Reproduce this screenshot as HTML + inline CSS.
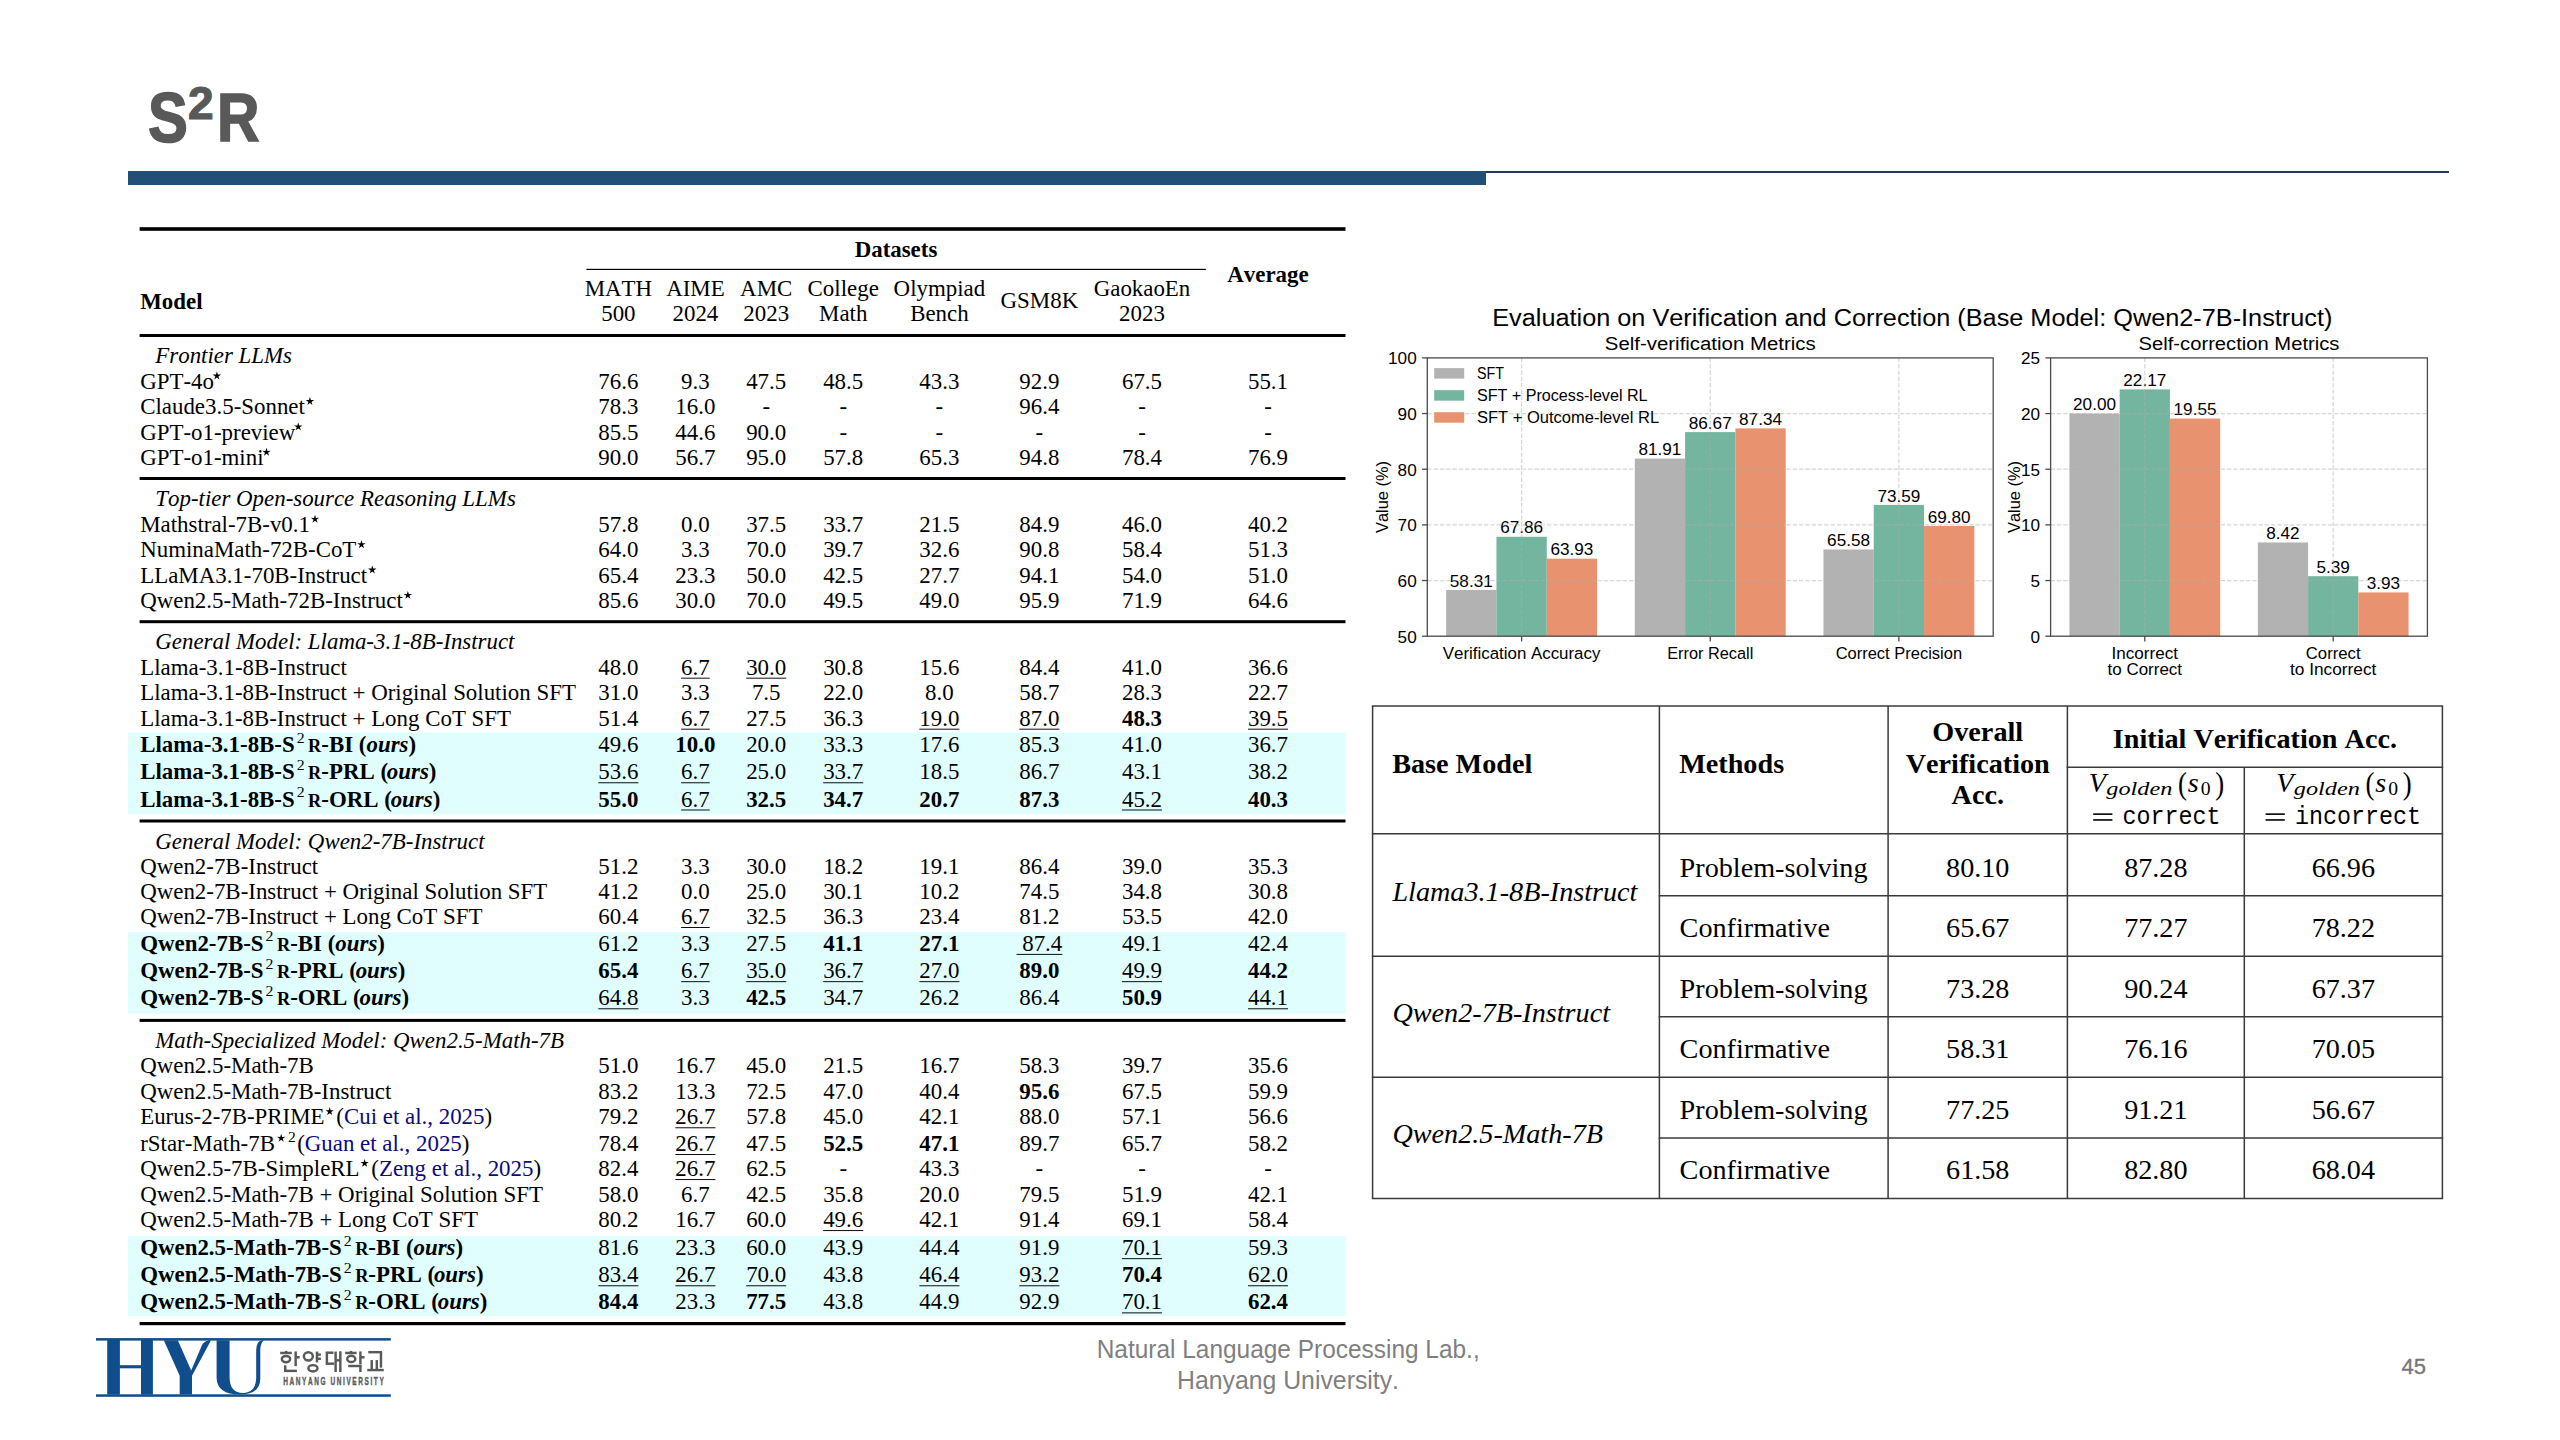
<!DOCTYPE html>
<html><head><meta charset="utf-8"><title>S2R</title>
<style>
html,body{margin:0;padding:0;background:#fff;}
body{width:2560px;height:1440px;overflow:hidden;}
svg{display:block;}
text{font-kerning:none;}
</style></head><body>
<svg width="2560" height="1440" viewBox="0 0 2560 1440">
<rect width="2560" height="1440" fill="#fff"/>
<text x="148.1" y="141.8" font-family="'Liberation Sans',sans-serif" font-weight="bold" font-size="69.5" fill="#595959" stroke="#595959" stroke-width="1.6" transform="translate(147.6,0) scale(0.86,1) translate(-147.6,0)">S</text>
<text x="188.1" y="118.8" font-family="'Liberation Sans',sans-serif" font-weight="bold" font-size="46" fill="#595959" stroke="#595959" stroke-width="1.2">2</text>
<text x="216.9" y="141.2" font-family="'Liberation Sans',sans-serif" font-weight="bold" font-size="68" fill="#595959" stroke="#595959" stroke-width="1.6" transform="translate(216.8,0) scale(0.865,1) translate(-216.8,0)">R</text>
<rect x="128" y="171" width="1358" height="14" fill="#224f78"/>
<rect x="1486" y="171" width="963" height="2" fill="#1e3957"/>
<rect x="128" y="732.40" width="1217.5" height="81.80" fill="#e0fefe"/>
<rect x="128" y="932.30" width="1217.5" height="81.30" fill="#e0fefe"/>
<rect x="128" y="1236.20" width="1217.5" height="80.00" fill="#e0fefe"/>
<rect x="139.60" y="227.20" width="1205.90" height="3.60" fill="#000"/>
<rect x="139.60" y="334.00" width="1205.90" height="3.00" fill="#000"/>
<rect x="139.60" y="477.00" width="1205.90" height="3.00" fill="#000"/>
<rect x="139.60" y="620.20" width="1205.90" height="3.00" fill="#000"/>
<rect x="139.60" y="819.50" width="1205.90" height="3.00" fill="#000"/>
<rect x="139.60" y="1018.90" width="1205.90" height="3.00" fill="#000"/>
<rect x="139.60" y="1322.00" width="1205.90" height="3.20" fill="#000"/>
<rect x="586.4" y="268.8" width="619.4" height="1.2" fill="#000"/>
<text x="896.00" y="256.60" font-family="'Liberation Serif',serif" font-size="22.90" font-weight="bold" font-style="normal" text-anchor="middle">Datasets</text>
<text x="1268.00" y="282.00" font-family="'Liberation Serif',serif" font-size="22.90" font-weight="bold" font-style="normal" text-anchor="middle">Average</text>
<text x="140.20" y="309.00" font-family="'Liberation Serif',serif" font-size="22.90" font-weight="bold" font-style="normal">Model</text>
<text x="618.40" y="295.60" font-family="'Liberation Serif',serif" font-size="22.90" font-weight="normal" font-style="normal" text-anchor="middle">MATH</text>
<text x="618.40" y="321.00" font-family="'Liberation Serif',serif" font-size="22.90" font-weight="normal" font-style="normal" text-anchor="middle">500</text>
<text x="695.40" y="295.60" font-family="'Liberation Serif',serif" font-size="22.90" font-weight="normal" font-style="normal" text-anchor="middle">AIME</text>
<text x="695.40" y="321.00" font-family="'Liberation Serif',serif" font-size="22.90" font-weight="normal" font-style="normal" text-anchor="middle">2024</text>
<text x="766.20" y="295.60" font-family="'Liberation Serif',serif" font-size="22.90" font-weight="normal" font-style="normal" text-anchor="middle">AMC</text>
<text x="766.20" y="321.00" font-family="'Liberation Serif',serif" font-size="22.90" font-weight="normal" font-style="normal" text-anchor="middle">2023</text>
<text x="843.20" y="295.60" font-family="'Liberation Serif',serif" font-size="22.90" font-weight="normal" font-style="normal" text-anchor="middle">College</text>
<text x="843.20" y="321.00" font-family="'Liberation Serif',serif" font-size="22.90" font-weight="normal" font-style="normal" text-anchor="middle">Math</text>
<text x="939.40" y="295.60" font-family="'Liberation Serif',serif" font-size="22.90" font-weight="normal" font-style="normal" text-anchor="middle">Olympiad</text>
<text x="939.40" y="321.00" font-family="'Liberation Serif',serif" font-size="22.90" font-weight="normal" font-style="normal" text-anchor="middle">Bench</text>
<text x="1039.40" y="308.40" font-family="'Liberation Serif',serif" font-size="22.90" font-weight="normal" font-style="normal" text-anchor="middle">GSM8K</text>
<text x="1142.00" y="295.60" font-family="'Liberation Serif',serif" font-size="22.90" font-weight="normal" font-style="normal" text-anchor="middle">GaokaoEn</text>
<text x="1142.00" y="321.00" font-family="'Liberation Serif',serif" font-size="22.90" font-weight="normal" font-style="normal" text-anchor="middle">2023</text>
<text x="155.30" y="363.40" font-family="'Liberation Serif',serif" font-size="22.90" font-weight="normal" font-style="italic">Frontier LLMs</text>
<text x="140.20" y="388.70" font-family="'Liberation Serif',serif" font-size="22.90" font-weight="normal" font-style="normal">GPT-4o</text>
<polygon points="216.89,371.50 217.84,374.58 221.07,374.54 218.44,376.40 219.47,379.46 216.89,377.53 214.30,379.46 215.34,376.40 212.70,374.54 215.93,374.58" fill="#000"/>
<text x="618.40" y="388.70" font-family="'Liberation Serif',serif" font-size="22.90" font-weight="normal" font-style="normal" text-anchor="middle">76.6</text>
<text x="695.40" y="388.70" font-family="'Liberation Serif',serif" font-size="22.90" font-weight="normal" font-style="normal" text-anchor="middle">9.3</text>
<text x="766.20" y="388.70" font-family="'Liberation Serif',serif" font-size="22.90" font-weight="normal" font-style="normal" text-anchor="middle">47.5</text>
<text x="843.20" y="388.70" font-family="'Liberation Serif',serif" font-size="22.90" font-weight="normal" font-style="normal" text-anchor="middle">48.5</text>
<text x="939.40" y="388.70" font-family="'Liberation Serif',serif" font-size="22.90" font-weight="normal" font-style="normal" text-anchor="middle">43.3</text>
<text x="1039.40" y="388.70" font-family="'Liberation Serif',serif" font-size="22.90" font-weight="normal" font-style="normal" text-anchor="middle">92.9</text>
<text x="1142.00" y="388.70" font-family="'Liberation Serif',serif" font-size="22.90" font-weight="normal" font-style="normal" text-anchor="middle">67.5</text>
<text x="1268.00" y="388.70" font-family="'Liberation Serif',serif" font-size="22.90" font-weight="normal" font-style="normal" text-anchor="middle">55.1</text>
<text x="140.20" y="414.20" font-family="'Liberation Serif',serif" font-size="22.90" font-weight="normal" font-style="normal">Claude3.5-Sonnet</text>
<polygon points="309.93,397.00 310.88,400.08 314.11,400.04 311.48,401.90 312.51,404.96 309.93,403.03 307.34,404.96 308.38,401.90 305.74,400.04 308.97,400.08" fill="#000"/>
<text x="618.40" y="414.20" font-family="'Liberation Serif',serif" font-size="22.90" font-weight="normal" font-style="normal" text-anchor="middle">78.3</text>
<text x="695.40" y="414.20" font-family="'Liberation Serif',serif" font-size="22.90" font-weight="normal" font-style="normal" text-anchor="middle">16.0</text>
<text x="766.20" y="414.20" font-family="'Liberation Serif',serif" font-size="22.90" font-weight="normal" font-style="normal" text-anchor="middle">-</text>
<text x="843.20" y="414.20" font-family="'Liberation Serif',serif" font-size="22.90" font-weight="normal" font-style="normal" text-anchor="middle">-</text>
<text x="939.40" y="414.20" font-family="'Liberation Serif',serif" font-size="22.90" font-weight="normal" font-style="normal" text-anchor="middle">-</text>
<text x="1039.40" y="414.20" font-family="'Liberation Serif',serif" font-size="22.90" font-weight="normal" font-style="normal" text-anchor="middle">96.4</text>
<text x="1142.00" y="414.20" font-family="'Liberation Serif',serif" font-size="22.90" font-weight="normal" font-style="normal" text-anchor="middle">-</text>
<text x="1268.00" y="414.20" font-family="'Liberation Serif',serif" font-size="22.90" font-weight="normal" font-style="normal" text-anchor="middle">-</text>
<text x="140.20" y="439.60" font-family="'Liberation Serif',serif" font-size="22.90" font-weight="normal" font-style="normal">GPT-o1-preview</text>
<polygon points="298.27,422.40 299.23,425.48 302.45,425.44 299.82,427.30 300.85,430.36 298.27,428.43 295.68,430.36 296.72,427.30 294.08,425.44 297.31,425.48" fill="#000"/>
<text x="618.40" y="439.60" font-family="'Liberation Serif',serif" font-size="22.90" font-weight="normal" font-style="normal" text-anchor="middle">85.5</text>
<text x="695.40" y="439.60" font-family="'Liberation Serif',serif" font-size="22.90" font-weight="normal" font-style="normal" text-anchor="middle">44.6</text>
<text x="766.20" y="439.60" font-family="'Liberation Serif',serif" font-size="22.90" font-weight="normal" font-style="normal" text-anchor="middle">90.0</text>
<text x="843.20" y="439.60" font-family="'Liberation Serif',serif" font-size="22.90" font-weight="normal" font-style="normal" text-anchor="middle">-</text>
<text x="939.40" y="439.60" font-family="'Liberation Serif',serif" font-size="22.90" font-weight="normal" font-style="normal" text-anchor="middle">-</text>
<text x="1039.40" y="439.60" font-family="'Liberation Serif',serif" font-size="22.90" font-weight="normal" font-style="normal" text-anchor="middle">-</text>
<text x="1142.00" y="439.60" font-family="'Liberation Serif',serif" font-size="22.90" font-weight="normal" font-style="normal" text-anchor="middle">-</text>
<text x="1268.00" y="439.60" font-family="'Liberation Serif',serif" font-size="22.90" font-weight="normal" font-style="normal" text-anchor="middle">-</text>
<text x="140.20" y="465.00" font-family="'Liberation Serif',serif" font-size="22.90" font-weight="normal" font-style="normal">GPT-o1-mini</text>
<polygon points="266.50,447.80 267.46,450.88 270.68,450.84 268.05,452.70 269.09,455.76 266.50,453.83 263.91,455.76 264.95,452.70 262.32,450.84 265.54,450.88" fill="#000"/>
<text x="618.40" y="465.00" font-family="'Liberation Serif',serif" font-size="22.90" font-weight="normal" font-style="normal" text-anchor="middle">90.0</text>
<text x="695.40" y="465.00" font-family="'Liberation Serif',serif" font-size="22.90" font-weight="normal" font-style="normal" text-anchor="middle">56.7</text>
<text x="766.20" y="465.00" font-family="'Liberation Serif',serif" font-size="22.90" font-weight="normal" font-style="normal" text-anchor="middle">95.0</text>
<text x="843.20" y="465.00" font-family="'Liberation Serif',serif" font-size="22.90" font-weight="normal" font-style="normal" text-anchor="middle">57.8</text>
<text x="939.40" y="465.00" font-family="'Liberation Serif',serif" font-size="22.90" font-weight="normal" font-style="normal" text-anchor="middle">65.3</text>
<text x="1039.40" y="465.00" font-family="'Liberation Serif',serif" font-size="22.90" font-weight="normal" font-style="normal" text-anchor="middle">94.8</text>
<text x="1142.00" y="465.00" font-family="'Liberation Serif',serif" font-size="22.90" font-weight="normal" font-style="normal" text-anchor="middle">78.4</text>
<text x="1268.00" y="465.00" font-family="'Liberation Serif',serif" font-size="22.90" font-weight="normal" font-style="normal" text-anchor="middle">76.9</text>
<text x="155.30" y="506.10" font-family="'Liberation Serif',serif" font-size="22.90" font-weight="normal" font-style="italic">Top-tier Open-source Reasoning LLMs</text>
<text x="140.20" y="532.00" font-family="'Liberation Serif',serif" font-size="22.90" font-weight="normal" font-style="normal">Mathstral-7B-v0.1</text>
<polygon points="315.02,514.80 315.97,517.88 319.20,517.84 316.56,519.70 317.60,522.76 315.02,520.83 312.43,522.76 313.47,519.70 310.83,517.84 314.06,517.88" fill="#000"/>
<text x="618.40" y="532.00" font-family="'Liberation Serif',serif" font-size="22.90" font-weight="normal" font-style="normal" text-anchor="middle">57.8</text>
<text x="695.40" y="532.00" font-family="'Liberation Serif',serif" font-size="22.90" font-weight="normal" font-style="normal" text-anchor="middle">0.0</text>
<text x="766.20" y="532.00" font-family="'Liberation Serif',serif" font-size="22.90" font-weight="normal" font-style="normal" text-anchor="middle">37.5</text>
<text x="843.20" y="532.00" font-family="'Liberation Serif',serif" font-size="22.90" font-weight="normal" font-style="normal" text-anchor="middle">33.7</text>
<text x="939.40" y="532.00" font-family="'Liberation Serif',serif" font-size="22.90" font-weight="normal" font-style="normal" text-anchor="middle">21.5</text>
<text x="1039.40" y="532.00" font-family="'Liberation Serif',serif" font-size="22.90" font-weight="normal" font-style="normal" text-anchor="middle">84.9</text>
<text x="1142.00" y="532.00" font-family="'Liberation Serif',serif" font-size="22.90" font-weight="normal" font-style="normal" text-anchor="middle">46.0</text>
<text x="1268.00" y="532.00" font-family="'Liberation Serif',serif" font-size="22.90" font-weight="normal" font-style="normal" text-anchor="middle">40.2</text>
<text x="140.20" y="557.40" font-family="'Liberation Serif',serif" font-size="22.90" font-weight="normal" font-style="normal">NuminaMath-72B-CoT</text>
<polygon points="361.45,540.20 362.41,543.28 365.64,543.24 363.00,545.10 364.04,548.16 361.45,546.23 358.87,548.16 359.91,545.10 357.27,543.24 360.50,543.28" fill="#000"/>
<text x="618.40" y="557.40" font-family="'Liberation Serif',serif" font-size="22.90" font-weight="normal" font-style="normal" text-anchor="middle">64.0</text>
<text x="695.40" y="557.40" font-family="'Liberation Serif',serif" font-size="22.90" font-weight="normal" font-style="normal" text-anchor="middle">3.3</text>
<text x="766.20" y="557.40" font-family="'Liberation Serif',serif" font-size="22.90" font-weight="normal" font-style="normal" text-anchor="middle">70.0</text>
<text x="843.20" y="557.40" font-family="'Liberation Serif',serif" font-size="22.90" font-weight="normal" font-style="normal" text-anchor="middle">39.7</text>
<text x="939.40" y="557.40" font-family="'Liberation Serif',serif" font-size="22.90" font-weight="normal" font-style="normal" text-anchor="middle">32.6</text>
<text x="1039.40" y="557.40" font-family="'Liberation Serif',serif" font-size="22.90" font-weight="normal" font-style="normal" text-anchor="middle">90.8</text>
<text x="1142.00" y="557.40" font-family="'Liberation Serif',serif" font-size="22.90" font-weight="normal" font-style="normal" text-anchor="middle">58.4</text>
<text x="1268.00" y="557.40" font-family="'Liberation Serif',serif" font-size="22.90" font-weight="normal" font-style="normal" text-anchor="middle">51.3</text>
<text x="140.20" y="582.70" font-family="'Liberation Serif',serif" font-size="22.90" font-weight="normal" font-style="normal">LLaMA3.1-70B-Instruct</text>
<polygon points="372.25,565.50 373.20,568.58 376.43,568.54 373.79,570.40 374.83,573.46 372.25,571.53 369.66,573.46 370.70,570.40 368.06,568.54 371.29,568.58" fill="#000"/>
<text x="618.40" y="582.70" font-family="'Liberation Serif',serif" font-size="22.90" font-weight="normal" font-style="normal" text-anchor="middle">65.4</text>
<text x="695.40" y="582.70" font-family="'Liberation Serif',serif" font-size="22.90" font-weight="normal" font-style="normal" text-anchor="middle">23.3</text>
<text x="766.20" y="582.70" font-family="'Liberation Serif',serif" font-size="22.90" font-weight="normal" font-style="normal" text-anchor="middle">50.0</text>
<text x="843.20" y="582.70" font-family="'Liberation Serif',serif" font-size="22.90" font-weight="normal" font-style="normal" text-anchor="middle">42.5</text>
<text x="939.40" y="582.70" font-family="'Liberation Serif',serif" font-size="22.90" font-weight="normal" font-style="normal" text-anchor="middle">27.7</text>
<text x="1039.40" y="582.70" font-family="'Liberation Serif',serif" font-size="22.90" font-weight="normal" font-style="normal" text-anchor="middle">94.1</text>
<text x="1142.00" y="582.70" font-family="'Liberation Serif',serif" font-size="22.90" font-weight="normal" font-style="normal" text-anchor="middle">54.0</text>
<text x="1268.00" y="582.70" font-family="'Liberation Serif',serif" font-size="22.90" font-weight="normal" font-style="normal" text-anchor="middle">51.0</text>
<text x="140.20" y="608.10" font-family="'Liberation Serif',serif" font-size="22.90" font-weight="normal" font-style="normal">Qwen2.5-Math-72B-Instruct</text>
<polygon points="407.86,590.90 408.82,593.98 412.04,593.94 409.41,595.80 410.45,598.86 407.86,596.93 405.27,598.86 406.31,595.80 403.67,593.94 406.90,593.98" fill="#000"/>
<text x="618.40" y="608.10" font-family="'Liberation Serif',serif" font-size="22.90" font-weight="normal" font-style="normal" text-anchor="middle">85.6</text>
<text x="695.40" y="608.10" font-family="'Liberation Serif',serif" font-size="22.90" font-weight="normal" font-style="normal" text-anchor="middle">30.0</text>
<text x="766.20" y="608.10" font-family="'Liberation Serif',serif" font-size="22.90" font-weight="normal" font-style="normal" text-anchor="middle">70.0</text>
<text x="843.20" y="608.10" font-family="'Liberation Serif',serif" font-size="22.90" font-weight="normal" font-style="normal" text-anchor="middle">49.5</text>
<text x="939.40" y="608.10" font-family="'Liberation Serif',serif" font-size="22.90" font-weight="normal" font-style="normal" text-anchor="middle">49.0</text>
<text x="1039.40" y="608.10" font-family="'Liberation Serif',serif" font-size="22.90" font-weight="normal" font-style="normal" text-anchor="middle">95.9</text>
<text x="1142.00" y="608.10" font-family="'Liberation Serif',serif" font-size="22.90" font-weight="normal" font-style="normal" text-anchor="middle">71.9</text>
<text x="1268.00" y="608.10" font-family="'Liberation Serif',serif" font-size="22.90" font-weight="normal" font-style="normal" text-anchor="middle">64.6</text>
<text x="155.30" y="648.60" font-family="'Liberation Serif',serif" font-size="22.90" font-weight="normal" font-style="italic">General Model: Llama-3.1-8B-Instruct</text>
<text x="140.20" y="674.70" font-family="'Liberation Serif',serif" font-size="22.90" font-weight="normal" font-style="normal">Llama-3.1-8B-Instruct</text>
<text x="618.40" y="674.70" font-family="'Liberation Serif',serif" font-size="22.90" font-weight="normal" font-style="normal" text-anchor="middle">48.0</text>
<text x="695.40" y="674.70" font-family="'Liberation Serif',serif" font-size="22.90" font-weight="normal" font-style="normal" text-anchor="middle">6.7</text>
<rect x="681.09" y="677.70" width="28.62" height="0.95" fill="#000"/>
<text x="766.20" y="674.70" font-family="'Liberation Serif',serif" font-size="22.90" font-weight="normal" font-style="normal" text-anchor="middle">30.0</text>
<rect x="746.16" y="677.70" width="40.07" height="0.95" fill="#000"/>
<text x="843.20" y="674.70" font-family="'Liberation Serif',serif" font-size="22.90" font-weight="normal" font-style="normal" text-anchor="middle">30.8</text>
<text x="939.40" y="674.70" font-family="'Liberation Serif',serif" font-size="22.90" font-weight="normal" font-style="normal" text-anchor="middle">15.6</text>
<text x="1039.40" y="674.70" font-family="'Liberation Serif',serif" font-size="22.90" font-weight="normal" font-style="normal" text-anchor="middle">84.4</text>
<text x="1142.00" y="674.70" font-family="'Liberation Serif',serif" font-size="22.90" font-weight="normal" font-style="normal" text-anchor="middle">41.0</text>
<text x="1268.00" y="674.70" font-family="'Liberation Serif',serif" font-size="22.90" font-weight="normal" font-style="normal" text-anchor="middle">36.6</text>
<text x="140.20" y="700.10" font-family="'Liberation Serif',serif" font-size="22.90" font-weight="normal" font-style="normal">Llama-3.1-8B-Instruct + Original Solution SFT</text>
<text x="618.40" y="700.10" font-family="'Liberation Serif',serif" font-size="22.90" font-weight="normal" font-style="normal" text-anchor="middle">31.0</text>
<text x="695.40" y="700.10" font-family="'Liberation Serif',serif" font-size="22.90" font-weight="normal" font-style="normal" text-anchor="middle">3.3</text>
<text x="766.20" y="700.10" font-family="'Liberation Serif',serif" font-size="22.90" font-weight="normal" font-style="normal" text-anchor="middle">7.5</text>
<text x="843.20" y="700.10" font-family="'Liberation Serif',serif" font-size="22.90" font-weight="normal" font-style="normal" text-anchor="middle">22.0</text>
<text x="939.40" y="700.10" font-family="'Liberation Serif',serif" font-size="22.90" font-weight="normal" font-style="normal" text-anchor="middle">8.0</text>
<text x="1039.40" y="700.10" font-family="'Liberation Serif',serif" font-size="22.90" font-weight="normal" font-style="normal" text-anchor="middle">58.7</text>
<text x="1142.00" y="700.10" font-family="'Liberation Serif',serif" font-size="22.90" font-weight="normal" font-style="normal" text-anchor="middle">28.3</text>
<text x="1268.00" y="700.10" font-family="'Liberation Serif',serif" font-size="22.90" font-weight="normal" font-style="normal" text-anchor="middle">22.7</text>
<text x="140.20" y="725.70" font-family="'Liberation Serif',serif" font-size="22.90" font-weight="normal" font-style="normal">Llama-3.1-8B-Instruct + Long CoT SFT</text>
<text x="618.40" y="725.70" font-family="'Liberation Serif',serif" font-size="22.90" font-weight="normal" font-style="normal" text-anchor="middle">51.4</text>
<text x="695.40" y="725.70" font-family="'Liberation Serif',serif" font-size="22.90" font-weight="normal" font-style="normal" text-anchor="middle">6.7</text>
<rect x="681.09" y="728.70" width="28.62" height="0.95" fill="#000"/>
<text x="766.20" y="725.70" font-family="'Liberation Serif',serif" font-size="22.90" font-weight="normal" font-style="normal" text-anchor="middle">27.5</text>
<text x="843.20" y="725.70" font-family="'Liberation Serif',serif" font-size="22.90" font-weight="normal" font-style="normal" text-anchor="middle">36.3</text>
<text x="939.40" y="725.70" font-family="'Liberation Serif',serif" font-size="22.90" font-weight="normal" font-style="normal" text-anchor="middle">19.0</text>
<rect x="919.36" y="728.70" width="40.07" height="0.95" fill="#000"/>
<text x="1039.40" y="725.70" font-family="'Liberation Serif',serif" font-size="22.90" font-weight="normal" font-style="normal" text-anchor="middle">87.0</text>
<rect x="1019.36" y="728.70" width="40.07" height="0.95" fill="#000"/>
<text x="1142.00" y="725.70" font-family="'Liberation Serif',serif" font-size="22.90" font-weight="bold" font-style="normal" text-anchor="middle">48.3</text>
<text x="1268.00" y="725.70" font-family="'Liberation Serif',serif" font-size="22.90" font-weight="normal" font-style="normal" text-anchor="middle">39.5</text>
<rect x="1247.96" y="728.70" width="40.07" height="0.95" fill="#000"/>
<text x="140.20" y="752.30" font-family="'Liberation Serif',serif" font-size="22.90" font-weight="bold" font-style="normal">Llama-3.1-8B-S</text>
<text x="296.78" y="742.70" font-family="'Liberation Serif',serif" font-size="14.66" textLength="7.9" lengthAdjust="spacingAndGlyphs">2</text>
<text x="308.08" y="752.30" font-family="'Liberation Serif',serif" font-size="18.32" font-weight="bold" font-style="normal">R</text>
<text x="321.31" y="752.30" font-family="'Liberation Serif',serif" font-size="22.90" font-weight="bold" font-style="normal">-BI (</text>
<text x="366.48" y="752.30" font-family="'Liberation Serif',serif" font-size="22.90" font-weight="bold" font-style="italic">ours</text>
<text x="408.48" y="752.30" font-family="'Liberation Serif',serif" font-size="22.90" font-weight="bold" font-style="normal">)</text>
<text x="618.40" y="752.30" font-family="'Liberation Serif',serif" font-size="22.90" font-weight="normal" font-style="normal" text-anchor="middle">49.6</text>
<text x="695.40" y="752.30" font-family="'Liberation Serif',serif" font-size="22.90" font-weight="bold" font-style="normal" text-anchor="middle">10.0</text>
<text x="766.20" y="752.30" font-family="'Liberation Serif',serif" font-size="22.90" font-weight="normal" font-style="normal" text-anchor="middle">20.0</text>
<text x="843.20" y="752.30" font-family="'Liberation Serif',serif" font-size="22.90" font-weight="normal" font-style="normal" text-anchor="middle">33.3</text>
<text x="939.40" y="752.30" font-family="'Liberation Serif',serif" font-size="22.90" font-weight="normal" font-style="normal" text-anchor="middle">17.6</text>
<text x="1039.40" y="752.30" font-family="'Liberation Serif',serif" font-size="22.90" font-weight="normal" font-style="normal" text-anchor="middle">85.3</text>
<text x="1142.00" y="752.30" font-family="'Liberation Serif',serif" font-size="22.90" font-weight="normal" font-style="normal" text-anchor="middle">41.0</text>
<text x="1268.00" y="752.30" font-family="'Liberation Serif',serif" font-size="22.90" font-weight="normal" font-style="normal" text-anchor="middle">36.7</text>
<text x="140.20" y="779.30" font-family="'Liberation Serif',serif" font-size="22.90" font-weight="bold" font-style="normal">Llama-3.1-8B-S</text>
<text x="296.78" y="769.70" font-family="'Liberation Serif',serif" font-size="14.66" textLength="7.9" lengthAdjust="spacingAndGlyphs">2</text>
<text x="308.08" y="779.30" font-family="'Liberation Serif',serif" font-size="18.32" font-weight="bold" font-style="normal">R</text>
<text x="321.31" y="779.30" font-family="'Liberation Serif',serif" font-size="22.90" font-weight="bold" font-style="normal">-PRL (</text>
<text x="386.83" y="779.30" font-family="'Liberation Serif',serif" font-size="22.90" font-weight="bold" font-style="italic">ours</text>
<text x="428.84" y="779.30" font-family="'Liberation Serif',serif" font-size="22.90" font-weight="bold" font-style="normal">)</text>
<text x="618.40" y="779.30" font-family="'Liberation Serif',serif" font-size="22.90" font-weight="normal" font-style="normal" text-anchor="middle">53.6</text>
<rect x="598.36" y="782.30" width="40.07" height="0.95" fill="#000"/>
<text x="695.40" y="779.30" font-family="'Liberation Serif',serif" font-size="22.90" font-weight="normal" font-style="normal" text-anchor="middle">6.7</text>
<rect x="681.09" y="782.30" width="28.62" height="0.95" fill="#000"/>
<text x="766.20" y="779.30" font-family="'Liberation Serif',serif" font-size="22.90" font-weight="normal" font-style="normal" text-anchor="middle">25.0</text>
<text x="843.20" y="779.30" font-family="'Liberation Serif',serif" font-size="22.90" font-weight="normal" font-style="normal" text-anchor="middle">33.7</text>
<rect x="823.16" y="782.30" width="40.07" height="0.95" fill="#000"/>
<text x="939.40" y="779.30" font-family="'Liberation Serif',serif" font-size="22.90" font-weight="normal" font-style="normal" text-anchor="middle">18.5</text>
<text x="1039.40" y="779.30" font-family="'Liberation Serif',serif" font-size="22.90" font-weight="normal" font-style="normal" text-anchor="middle">86.7</text>
<text x="1142.00" y="779.30" font-family="'Liberation Serif',serif" font-size="22.90" font-weight="normal" font-style="normal" text-anchor="middle">43.1</text>
<text x="1268.00" y="779.30" font-family="'Liberation Serif',serif" font-size="22.90" font-weight="normal" font-style="normal" text-anchor="middle">38.2</text>
<text x="140.20" y="806.50" font-family="'Liberation Serif',serif" font-size="22.90" font-weight="bold" font-style="normal">Llama-3.1-8B-S</text>
<text x="296.78" y="796.90" font-family="'Liberation Serif',serif" font-size="14.66" textLength="7.9" lengthAdjust="spacingAndGlyphs">2</text>
<text x="308.08" y="806.50" font-family="'Liberation Serif',serif" font-size="18.32" font-weight="bold" font-style="normal">R</text>
<text x="321.31" y="806.50" font-family="'Liberation Serif',serif" font-size="22.90" font-weight="bold" font-style="normal">-ORL (</text>
<text x="390.65" y="806.50" font-family="'Liberation Serif',serif" font-size="22.90" font-weight="bold" font-style="italic">ours</text>
<text x="432.66" y="806.50" font-family="'Liberation Serif',serif" font-size="22.90" font-weight="bold" font-style="normal">)</text>
<text x="618.40" y="806.50" font-family="'Liberation Serif',serif" font-size="22.90" font-weight="bold" font-style="normal" text-anchor="middle">55.0</text>
<text x="695.40" y="806.50" font-family="'Liberation Serif',serif" font-size="22.90" font-weight="normal" font-style="normal" text-anchor="middle">6.7</text>
<rect x="681.09" y="809.50" width="28.62" height="0.95" fill="#000"/>
<text x="766.20" y="806.50" font-family="'Liberation Serif',serif" font-size="22.90" font-weight="bold" font-style="normal" text-anchor="middle">32.5</text>
<text x="843.20" y="806.50" font-family="'Liberation Serif',serif" font-size="22.90" font-weight="bold" font-style="normal" text-anchor="middle">34.7</text>
<text x="939.40" y="806.50" font-family="'Liberation Serif',serif" font-size="22.90" font-weight="bold" font-style="normal" text-anchor="middle">20.7</text>
<text x="1039.40" y="806.50" font-family="'Liberation Serif',serif" font-size="22.90" font-weight="bold" font-style="normal" text-anchor="middle">87.3</text>
<text x="1142.00" y="806.50" font-family="'Liberation Serif',serif" font-size="22.90" font-weight="normal" font-style="normal" text-anchor="middle">45.2</text>
<rect x="1121.96" y="809.50" width="40.07" height="0.95" fill="#000"/>
<text x="1268.00" y="806.50" font-family="'Liberation Serif',serif" font-size="22.90" font-weight="bold" font-style="normal" text-anchor="middle">40.3</text>
<text x="155.30" y="848.50" font-family="'Liberation Serif',serif" font-size="22.90" font-weight="normal" font-style="italic">General Model: Qwen2-7B-Instruct</text>
<text x="140.20" y="873.60" font-family="'Liberation Serif',serif" font-size="22.90" font-weight="normal" font-style="normal">Qwen2-7B-Instruct</text>
<text x="618.40" y="873.60" font-family="'Liberation Serif',serif" font-size="22.90" font-weight="normal" font-style="normal" text-anchor="middle">51.2</text>
<text x="695.40" y="873.60" font-family="'Liberation Serif',serif" font-size="22.90" font-weight="normal" font-style="normal" text-anchor="middle">3.3</text>
<text x="766.20" y="873.60" font-family="'Liberation Serif',serif" font-size="22.90" font-weight="normal" font-style="normal" text-anchor="middle">30.0</text>
<text x="843.20" y="873.60" font-family="'Liberation Serif',serif" font-size="22.90" font-weight="normal" font-style="normal" text-anchor="middle">18.2</text>
<text x="939.40" y="873.60" font-family="'Liberation Serif',serif" font-size="22.90" font-weight="normal" font-style="normal" text-anchor="middle">19.1</text>
<text x="1039.40" y="873.60" font-family="'Liberation Serif',serif" font-size="22.90" font-weight="normal" font-style="normal" text-anchor="middle">86.4</text>
<text x="1142.00" y="873.60" font-family="'Liberation Serif',serif" font-size="22.90" font-weight="normal" font-style="normal" text-anchor="middle">39.0</text>
<text x="1268.00" y="873.60" font-family="'Liberation Serif',serif" font-size="22.90" font-weight="normal" font-style="normal" text-anchor="middle">35.3</text>
<text x="140.20" y="898.70" font-family="'Liberation Serif',serif" font-size="22.90" font-weight="normal" font-style="normal">Qwen2-7B-Instruct + Original Solution SFT</text>
<text x="618.40" y="898.70" font-family="'Liberation Serif',serif" font-size="22.90" font-weight="normal" font-style="normal" text-anchor="middle">41.2</text>
<text x="695.40" y="898.70" font-family="'Liberation Serif',serif" font-size="22.90" font-weight="normal" font-style="normal" text-anchor="middle">0.0</text>
<text x="766.20" y="898.70" font-family="'Liberation Serif',serif" font-size="22.90" font-weight="normal" font-style="normal" text-anchor="middle">25.0</text>
<text x="843.20" y="898.70" font-family="'Liberation Serif',serif" font-size="22.90" font-weight="normal" font-style="normal" text-anchor="middle">30.1</text>
<text x="939.40" y="898.70" font-family="'Liberation Serif',serif" font-size="22.90" font-weight="normal" font-style="normal" text-anchor="middle">10.2</text>
<text x="1039.40" y="898.70" font-family="'Liberation Serif',serif" font-size="22.90" font-weight="normal" font-style="normal" text-anchor="middle">74.5</text>
<text x="1142.00" y="898.70" font-family="'Liberation Serif',serif" font-size="22.90" font-weight="normal" font-style="normal" text-anchor="middle">34.8</text>
<text x="1268.00" y="898.70" font-family="'Liberation Serif',serif" font-size="22.90" font-weight="normal" font-style="normal" text-anchor="middle">30.8</text>
<text x="140.20" y="924.00" font-family="'Liberation Serif',serif" font-size="22.90" font-weight="normal" font-style="normal">Qwen2-7B-Instruct + Long CoT SFT</text>
<text x="618.40" y="924.00" font-family="'Liberation Serif',serif" font-size="22.90" font-weight="normal" font-style="normal" text-anchor="middle">60.4</text>
<text x="695.40" y="924.00" font-family="'Liberation Serif',serif" font-size="22.90" font-weight="normal" font-style="normal" text-anchor="middle">6.7</text>
<rect x="681.09" y="927.00" width="28.62" height="0.95" fill="#000"/>
<text x="766.20" y="924.00" font-family="'Liberation Serif',serif" font-size="22.90" font-weight="normal" font-style="normal" text-anchor="middle">32.5</text>
<text x="843.20" y="924.00" font-family="'Liberation Serif',serif" font-size="22.90" font-weight="normal" font-style="normal" text-anchor="middle">36.3</text>
<text x="939.40" y="924.00" font-family="'Liberation Serif',serif" font-size="22.90" font-weight="normal" font-style="normal" text-anchor="middle">23.4</text>
<text x="1039.40" y="924.00" font-family="'Liberation Serif',serif" font-size="22.90" font-weight="normal" font-style="normal" text-anchor="middle">81.2</text>
<text x="1142.00" y="924.00" font-family="'Liberation Serif',serif" font-size="22.90" font-weight="normal" font-style="normal" text-anchor="middle">53.5</text>
<text x="1268.00" y="924.00" font-family="'Liberation Serif',serif" font-size="22.90" font-weight="normal" font-style="normal" text-anchor="middle">42.0</text>
<text x="140.20" y="950.90" font-family="'Liberation Serif',serif" font-size="22.90" font-weight="bold" font-style="normal">Qwen2-7B-S</text>
<text x="265.61" y="941.30" font-family="'Liberation Serif',serif" font-size="14.66" textLength="7.9" lengthAdjust="spacingAndGlyphs">2</text>
<text x="276.91" y="950.90" font-family="'Liberation Serif',serif" font-size="18.32" font-weight="bold" font-style="normal">R</text>
<text x="290.15" y="950.90" font-family="'Liberation Serif',serif" font-size="22.90" font-weight="bold" font-style="normal">-BI (</text>
<text x="335.31" y="950.90" font-family="'Liberation Serif',serif" font-size="22.90" font-weight="bold" font-style="italic">ours</text>
<text x="377.32" y="950.90" font-family="'Liberation Serif',serif" font-size="22.90" font-weight="bold" font-style="normal">)</text>
<text x="618.40" y="950.90" font-family="'Liberation Serif',serif" font-size="22.90" font-weight="normal" font-style="normal" text-anchor="middle">61.2</text>
<text x="695.40" y="950.90" font-family="'Liberation Serif',serif" font-size="22.90" font-weight="normal" font-style="normal" text-anchor="middle">3.3</text>
<text x="766.20" y="950.90" font-family="'Liberation Serif',serif" font-size="22.90" font-weight="normal" font-style="normal" text-anchor="middle">27.5</text>
<text x="843.20" y="950.90" font-family="'Liberation Serif',serif" font-size="22.90" font-weight="bold" font-style="normal" text-anchor="middle">41.1</text>
<text x="939.40" y="950.90" font-family="'Liberation Serif',serif" font-size="22.90" font-weight="bold" font-style="normal" text-anchor="middle">27.1</text>
<text x="1016.50" y="950.90" font-family="'Liberation Serif',serif" font-size="22.90" font-weight="normal" font-style="normal" xml:space="preserve"> 87.4</text>
<rect x="1016.50" y="953.90" width="45.80" height="0.95" fill="#000"/>
<text x="1142.00" y="950.90" font-family="'Liberation Serif',serif" font-size="22.90" font-weight="normal" font-style="normal" text-anchor="middle">49.1</text>
<text x="1268.00" y="950.90" font-family="'Liberation Serif',serif" font-size="22.90" font-weight="normal" font-style="normal" text-anchor="middle">42.4</text>
<text x="140.20" y="978.20" font-family="'Liberation Serif',serif" font-size="22.90" font-weight="bold" font-style="normal">Qwen2-7B-S</text>
<text x="265.61" y="968.60" font-family="'Liberation Serif',serif" font-size="14.66" textLength="7.9" lengthAdjust="spacingAndGlyphs">2</text>
<text x="276.91" y="978.20" font-family="'Liberation Serif',serif" font-size="18.32" font-weight="bold" font-style="normal">R</text>
<text x="290.15" y="978.20" font-family="'Liberation Serif',serif" font-size="22.90" font-weight="bold" font-style="normal">-PRL (</text>
<text x="355.66" y="978.20" font-family="'Liberation Serif',serif" font-size="22.90" font-weight="bold" font-style="italic">ours</text>
<text x="397.67" y="978.20" font-family="'Liberation Serif',serif" font-size="22.90" font-weight="bold" font-style="normal">)</text>
<text x="618.40" y="978.20" font-family="'Liberation Serif',serif" font-size="22.90" font-weight="bold" font-style="normal" text-anchor="middle">65.4</text>
<text x="695.40" y="978.20" font-family="'Liberation Serif',serif" font-size="22.90" font-weight="normal" font-style="normal" text-anchor="middle">6.7</text>
<rect x="681.09" y="981.20" width="28.62" height="0.95" fill="#000"/>
<text x="766.20" y="978.20" font-family="'Liberation Serif',serif" font-size="22.90" font-weight="normal" font-style="normal" text-anchor="middle">35.0</text>
<rect x="746.16" y="981.20" width="40.07" height="0.95" fill="#000"/>
<text x="843.20" y="978.20" font-family="'Liberation Serif',serif" font-size="22.90" font-weight="normal" font-style="normal" text-anchor="middle">36.7</text>
<rect x="823.16" y="981.20" width="40.07" height="0.95" fill="#000"/>
<text x="939.40" y="978.20" font-family="'Liberation Serif',serif" font-size="22.90" font-weight="normal" font-style="normal" text-anchor="middle">27.0</text>
<rect x="919.36" y="981.20" width="40.07" height="0.95" fill="#000"/>
<text x="1039.40" y="978.20" font-family="'Liberation Serif',serif" font-size="22.90" font-weight="bold" font-style="normal" text-anchor="middle">89.0</text>
<text x="1142.00" y="978.20" font-family="'Liberation Serif',serif" font-size="22.90" font-weight="normal" font-style="normal" text-anchor="middle">49.9</text>
<rect x="1121.96" y="981.20" width="40.07" height="0.95" fill="#000"/>
<text x="1268.00" y="978.20" font-family="'Liberation Serif',serif" font-size="22.90" font-weight="bold" font-style="normal" text-anchor="middle">44.2</text>
<text x="140.20" y="1005.30" font-family="'Liberation Serif',serif" font-size="22.90" font-weight="bold" font-style="normal">Qwen2-7B-S</text>
<text x="265.61" y="995.70" font-family="'Liberation Serif',serif" font-size="14.66" textLength="7.9" lengthAdjust="spacingAndGlyphs">2</text>
<text x="276.91" y="1005.30" font-family="'Liberation Serif',serif" font-size="18.32" font-weight="bold" font-style="normal">R</text>
<text x="290.15" y="1005.30" font-family="'Liberation Serif',serif" font-size="22.90" font-weight="bold" font-style="normal">-ORL (</text>
<text x="359.49" y="1005.30" font-family="'Liberation Serif',serif" font-size="22.90" font-weight="bold" font-style="italic">ours</text>
<text x="401.49" y="1005.30" font-family="'Liberation Serif',serif" font-size="22.90" font-weight="bold" font-style="normal">)</text>
<text x="618.40" y="1005.30" font-family="'Liberation Serif',serif" font-size="22.90" font-weight="normal" font-style="normal" text-anchor="middle">64.8</text>
<rect x="598.36" y="1008.30" width="40.07" height="0.95" fill="#000"/>
<text x="695.40" y="1005.30" font-family="'Liberation Serif',serif" font-size="22.90" font-weight="normal" font-style="normal" text-anchor="middle">3.3</text>
<text x="766.20" y="1005.30" font-family="'Liberation Serif',serif" font-size="22.90" font-weight="bold" font-style="normal" text-anchor="middle">42.5</text>
<text x="843.20" y="1005.30" font-family="'Liberation Serif',serif" font-size="22.90" font-weight="normal" font-style="normal" text-anchor="middle">34.7</text>
<text x="939.40" y="1005.30" font-family="'Liberation Serif',serif" font-size="22.90" font-weight="normal" font-style="normal" text-anchor="middle">26.2</text>
<text x="1039.40" y="1005.30" font-family="'Liberation Serif',serif" font-size="22.90" font-weight="normal" font-style="normal" text-anchor="middle">86.4</text>
<text x="1142.00" y="1005.30" font-family="'Liberation Serif',serif" font-size="22.90" font-weight="bold" font-style="normal" text-anchor="middle">50.9</text>
<text x="1268.00" y="1005.30" font-family="'Liberation Serif',serif" font-size="22.90" font-weight="normal" font-style="normal" text-anchor="middle">44.1</text>
<rect x="1247.96" y="1008.30" width="40.07" height="0.95" fill="#000"/>
<text x="155.30" y="1047.90" font-family="'Liberation Serif',serif" font-size="22.90" font-weight="normal" font-style="italic">Math-Specialized Model: Qwen2.5-Math-7B</text>
<text x="140.20" y="1073.10" font-family="'Liberation Serif',serif" font-size="22.90" font-weight="normal" font-style="normal">Qwen2.5-Math-7B</text>
<text x="618.40" y="1073.10" font-family="'Liberation Serif',serif" font-size="22.90" font-weight="normal" font-style="normal" text-anchor="middle">51.0</text>
<text x="695.40" y="1073.10" font-family="'Liberation Serif',serif" font-size="22.90" font-weight="normal" font-style="normal" text-anchor="middle">16.7</text>
<text x="766.20" y="1073.10" font-family="'Liberation Serif',serif" font-size="22.90" font-weight="normal" font-style="normal" text-anchor="middle">45.0</text>
<text x="843.20" y="1073.10" font-family="'Liberation Serif',serif" font-size="22.90" font-weight="normal" font-style="normal" text-anchor="middle">21.5</text>
<text x="939.40" y="1073.10" font-family="'Liberation Serif',serif" font-size="22.90" font-weight="normal" font-style="normal" text-anchor="middle">16.7</text>
<text x="1039.40" y="1073.10" font-family="'Liberation Serif',serif" font-size="22.90" font-weight="normal" font-style="normal" text-anchor="middle">58.3</text>
<text x="1142.00" y="1073.10" font-family="'Liberation Serif',serif" font-size="22.90" font-weight="normal" font-style="normal" text-anchor="middle">39.7</text>
<text x="1268.00" y="1073.10" font-family="'Liberation Serif',serif" font-size="22.90" font-weight="normal" font-style="normal" text-anchor="middle">35.6</text>
<text x="140.20" y="1098.50" font-family="'Liberation Serif',serif" font-size="22.90" font-weight="normal" font-style="normal">Qwen2.5-Math-7B-Instruct</text>
<text x="618.40" y="1098.50" font-family="'Liberation Serif',serif" font-size="22.90" font-weight="normal" font-style="normal" text-anchor="middle">83.2</text>
<text x="695.40" y="1098.50" font-family="'Liberation Serif',serif" font-size="22.90" font-weight="normal" font-style="normal" text-anchor="middle">13.3</text>
<text x="766.20" y="1098.50" font-family="'Liberation Serif',serif" font-size="22.90" font-weight="normal" font-style="normal" text-anchor="middle">72.5</text>
<text x="843.20" y="1098.50" font-family="'Liberation Serif',serif" font-size="22.90" font-weight="normal" font-style="normal" text-anchor="middle">47.0</text>
<text x="939.40" y="1098.50" font-family="'Liberation Serif',serif" font-size="22.90" font-weight="normal" font-style="normal" text-anchor="middle">40.4</text>
<text x="1039.40" y="1098.50" font-family="'Liberation Serif',serif" font-size="22.90" font-weight="bold" font-style="normal" text-anchor="middle">95.6</text>
<text x="1142.00" y="1098.50" font-family="'Liberation Serif',serif" font-size="22.90" font-weight="normal" font-style="normal" text-anchor="middle">67.5</text>
<text x="1268.00" y="1098.50" font-family="'Liberation Serif',serif" font-size="22.90" font-weight="normal" font-style="normal" text-anchor="middle">59.9</text>
<text x="140.20" y="1124.30" font-family="'Liberation Serif',serif" font-size="22.90" font-weight="normal" font-style="normal">Eurus-2-7B-PRIME</text>
<polygon points="329.67,1107.10 330.63,1110.18 333.85,1110.14 331.22,1112.00 332.26,1115.06 329.67,1113.13 327.08,1115.06 328.12,1112.00 325.49,1110.14 328.71,1110.18" fill="#000"/>
<text x="336.37" y="1124.30" font-family="'Liberation Serif',serif" font-size="22.90" font-weight="normal" font-style="normal">(</text>
<text x="344.00" y="1124.30" font-family="'Liberation Serif',serif" font-size="22.90" font-weight="normal" font-style="normal" fill="#0a0a80">Cui et al., 2025</text>
<text x="484.56" y="1124.30" font-family="'Liberation Serif',serif" font-size="22.90" font-weight="normal" font-style="normal">)</text>
<text x="618.40" y="1124.30" font-family="'Liberation Serif',serif" font-size="22.90" font-weight="normal" font-style="normal" text-anchor="middle">79.2</text>
<text x="695.40" y="1124.30" font-family="'Liberation Serif',serif" font-size="22.90" font-weight="normal" font-style="normal" text-anchor="middle">26.7</text>
<rect x="675.36" y="1127.30" width="40.07" height="0.95" fill="#000"/>
<text x="766.20" y="1124.30" font-family="'Liberation Serif',serif" font-size="22.90" font-weight="normal" font-style="normal" text-anchor="middle">57.8</text>
<text x="843.20" y="1124.30" font-family="'Liberation Serif',serif" font-size="22.90" font-weight="normal" font-style="normal" text-anchor="middle">45.0</text>
<text x="939.40" y="1124.30" font-family="'Liberation Serif',serif" font-size="22.90" font-weight="normal" font-style="normal" text-anchor="middle">42.1</text>
<text x="1039.40" y="1124.30" font-family="'Liberation Serif',serif" font-size="22.90" font-weight="normal" font-style="normal" text-anchor="middle">88.0</text>
<text x="1142.00" y="1124.30" font-family="'Liberation Serif',serif" font-size="22.90" font-weight="normal" font-style="normal" text-anchor="middle">57.1</text>
<text x="1268.00" y="1124.30" font-family="'Liberation Serif',serif" font-size="22.90" font-weight="normal" font-style="normal" text-anchor="middle">56.6</text>
<text x="140.20" y="1151.00" font-family="'Liberation Serif',serif" font-size="22.90" font-weight="normal" font-style="normal">rStar-Math-7B</text>
<polygon points="281.17,1133.80 282.13,1136.88 285.36,1136.84 282.72,1138.70 283.76,1141.76 281.17,1139.83 278.59,1141.76 279.62,1138.70 276.99,1136.84 280.22,1136.88" fill="#000"/>
<text x="288.07" y="1141.70" font-family="'Liberation Serif',serif" font-size="15.57" font-weight="normal" font-style="normal">2</text>
<text x="297.16" y="1151.00" font-family="'Liberation Serif',serif" font-size="22.90" font-weight="normal" font-style="normal">(</text>
<text x="304.79" y="1151.00" font-family="'Liberation Serif',serif" font-size="22.90" font-weight="normal" font-style="normal" fill="#0a0a80">Guan et al., 2025</text>
<text x="461.86" y="1151.00" font-family="'Liberation Serif',serif" font-size="22.90" font-weight="normal" font-style="normal">)</text>
<text x="618.40" y="1151.00" font-family="'Liberation Serif',serif" font-size="22.90" font-weight="normal" font-style="normal" text-anchor="middle">78.4</text>
<text x="695.40" y="1151.00" font-family="'Liberation Serif',serif" font-size="22.90" font-weight="normal" font-style="normal" text-anchor="middle">26.7</text>
<rect x="675.36" y="1154.00" width="40.07" height="0.95" fill="#000"/>
<text x="766.20" y="1151.00" font-family="'Liberation Serif',serif" font-size="22.90" font-weight="normal" font-style="normal" text-anchor="middle">47.5</text>
<text x="843.20" y="1151.00" font-family="'Liberation Serif',serif" font-size="22.90" font-weight="bold" font-style="normal" text-anchor="middle">52.5</text>
<text x="939.40" y="1151.00" font-family="'Liberation Serif',serif" font-size="22.90" font-weight="bold" font-style="normal" text-anchor="middle">47.1</text>
<text x="1039.40" y="1151.00" font-family="'Liberation Serif',serif" font-size="22.90" font-weight="normal" font-style="normal" text-anchor="middle">89.7</text>
<text x="1142.00" y="1151.00" font-family="'Liberation Serif',serif" font-size="22.90" font-weight="normal" font-style="normal" text-anchor="middle">65.7</text>
<text x="1268.00" y="1151.00" font-family="'Liberation Serif',serif" font-size="22.90" font-weight="normal" font-style="normal" text-anchor="middle">58.2</text>
<text x="140.20" y="1176.10" font-family="'Liberation Serif',serif" font-size="22.90" font-weight="normal" font-style="normal">Qwen2.5-7B-SimpleRL</text>
<polygon points="364.64,1158.90 365.60,1161.98 368.83,1161.94 366.19,1163.80 367.23,1166.86 364.64,1164.93 362.06,1166.86 363.09,1163.80 360.46,1161.94 363.69,1161.98" fill="#000"/>
<text x="371.34" y="1176.10" font-family="'Liberation Serif',serif" font-size="22.90" font-weight="normal" font-style="normal">(</text>
<text x="378.97" y="1176.10" font-family="'Liberation Serif',serif" font-size="22.90" font-weight="normal" font-style="normal" fill="#0a0a80">Zeng et al., 2025</text>
<text x="533.50" y="1176.10" font-family="'Liberation Serif',serif" font-size="22.90" font-weight="normal" font-style="normal">)</text>
<text x="618.40" y="1176.10" font-family="'Liberation Serif',serif" font-size="22.90" font-weight="normal" font-style="normal" text-anchor="middle">82.4</text>
<text x="695.40" y="1176.10" font-family="'Liberation Serif',serif" font-size="22.90" font-weight="normal" font-style="normal" text-anchor="middle">26.7</text>
<rect x="675.36" y="1179.10" width="40.07" height="0.95" fill="#000"/>
<text x="766.20" y="1176.10" font-family="'Liberation Serif',serif" font-size="22.90" font-weight="normal" font-style="normal" text-anchor="middle">62.5</text>
<text x="843.20" y="1176.10" font-family="'Liberation Serif',serif" font-size="22.90" font-weight="normal" font-style="normal" text-anchor="middle">-</text>
<text x="939.40" y="1176.10" font-family="'Liberation Serif',serif" font-size="22.90" font-weight="normal" font-style="normal" text-anchor="middle">43.3</text>
<text x="1039.40" y="1176.10" font-family="'Liberation Serif',serif" font-size="22.90" font-weight="normal" font-style="normal" text-anchor="middle">-</text>
<text x="1142.00" y="1176.10" font-family="'Liberation Serif',serif" font-size="22.90" font-weight="normal" font-style="normal" text-anchor="middle">-</text>
<text x="1268.00" y="1176.10" font-family="'Liberation Serif',serif" font-size="22.90" font-weight="normal" font-style="normal" text-anchor="middle">-</text>
<text x="140.20" y="1201.70" font-family="'Liberation Serif',serif" font-size="22.90" font-weight="normal" font-style="normal">Qwen2.5-Math-7B + Original Solution SFT</text>
<text x="618.40" y="1201.70" font-family="'Liberation Serif',serif" font-size="22.90" font-weight="normal" font-style="normal" text-anchor="middle">58.0</text>
<text x="695.40" y="1201.70" font-family="'Liberation Serif',serif" font-size="22.90" font-weight="normal" font-style="normal" text-anchor="middle">6.7</text>
<text x="766.20" y="1201.70" font-family="'Liberation Serif',serif" font-size="22.90" font-weight="normal" font-style="normal" text-anchor="middle">42.5</text>
<text x="843.20" y="1201.70" font-family="'Liberation Serif',serif" font-size="22.90" font-weight="normal" font-style="normal" text-anchor="middle">35.8</text>
<text x="939.40" y="1201.70" font-family="'Liberation Serif',serif" font-size="22.90" font-weight="normal" font-style="normal" text-anchor="middle">20.0</text>
<text x="1039.40" y="1201.70" font-family="'Liberation Serif',serif" font-size="22.90" font-weight="normal" font-style="normal" text-anchor="middle">79.5</text>
<text x="1142.00" y="1201.70" font-family="'Liberation Serif',serif" font-size="22.90" font-weight="normal" font-style="normal" text-anchor="middle">51.9</text>
<text x="1268.00" y="1201.70" font-family="'Liberation Serif',serif" font-size="22.90" font-weight="normal" font-style="normal" text-anchor="middle">42.1</text>
<text x="140.20" y="1227.10" font-family="'Liberation Serif',serif" font-size="22.90" font-weight="normal" font-style="normal">Qwen2.5-Math-7B + Long CoT SFT</text>
<text x="618.40" y="1227.10" font-family="'Liberation Serif',serif" font-size="22.90" font-weight="normal" font-style="normal" text-anchor="middle">80.2</text>
<text x="695.40" y="1227.10" font-family="'Liberation Serif',serif" font-size="22.90" font-weight="normal" font-style="normal" text-anchor="middle">16.7</text>
<text x="766.20" y="1227.10" font-family="'Liberation Serif',serif" font-size="22.90" font-weight="normal" font-style="normal" text-anchor="middle">60.0</text>
<text x="843.20" y="1227.10" font-family="'Liberation Serif',serif" font-size="22.90" font-weight="normal" font-style="normal" text-anchor="middle">49.6</text>
<rect x="823.16" y="1230.10" width="40.07" height="0.95" fill="#000"/>
<text x="939.40" y="1227.10" font-family="'Liberation Serif',serif" font-size="22.90" font-weight="normal" font-style="normal" text-anchor="middle">42.1</text>
<text x="1039.40" y="1227.10" font-family="'Liberation Serif',serif" font-size="22.90" font-weight="normal" font-style="normal" text-anchor="middle">91.4</text>
<text x="1142.00" y="1227.10" font-family="'Liberation Serif',serif" font-size="22.90" font-weight="normal" font-style="normal" text-anchor="middle">69.1</text>
<text x="1268.00" y="1227.10" font-family="'Liberation Serif',serif" font-size="22.90" font-weight="normal" font-style="normal" text-anchor="middle">58.4</text>
<text x="140.20" y="1255.20" font-family="'Liberation Serif',serif" font-size="22.90" font-weight="bold" font-style="normal">Qwen2.5-Math-7B-S</text>
<text x="343.84" y="1245.60" font-family="'Liberation Serif',serif" font-size="14.66" textLength="7.9" lengthAdjust="spacingAndGlyphs">2</text>
<text x="355.14" y="1255.20" font-family="'Liberation Serif',serif" font-size="18.32" font-weight="bold" font-style="normal">R</text>
<text x="368.37" y="1255.20" font-family="'Liberation Serif',serif" font-size="22.90" font-weight="bold" font-style="normal">-BI (</text>
<text x="413.54" y="1255.20" font-family="'Liberation Serif',serif" font-size="22.90" font-weight="bold" font-style="italic">ours</text>
<text x="455.55" y="1255.20" font-family="'Liberation Serif',serif" font-size="22.90" font-weight="bold" font-style="normal">)</text>
<text x="618.40" y="1255.20" font-family="'Liberation Serif',serif" font-size="22.90" font-weight="normal" font-style="normal" text-anchor="middle">81.6</text>
<text x="695.40" y="1255.20" font-family="'Liberation Serif',serif" font-size="22.90" font-weight="normal" font-style="normal" text-anchor="middle">23.3</text>
<text x="766.20" y="1255.20" font-family="'Liberation Serif',serif" font-size="22.90" font-weight="normal" font-style="normal" text-anchor="middle">60.0</text>
<text x="843.20" y="1255.20" font-family="'Liberation Serif',serif" font-size="22.90" font-weight="normal" font-style="normal" text-anchor="middle">43.9</text>
<text x="939.40" y="1255.20" font-family="'Liberation Serif',serif" font-size="22.90" font-weight="normal" font-style="normal" text-anchor="middle">44.4</text>
<text x="1039.40" y="1255.20" font-family="'Liberation Serif',serif" font-size="22.90" font-weight="normal" font-style="normal" text-anchor="middle">91.9</text>
<text x="1142.00" y="1255.20" font-family="'Liberation Serif',serif" font-size="22.90" font-weight="normal" font-style="normal" text-anchor="middle">70.1</text>
<rect x="1121.96" y="1258.20" width="40.07" height="0.95" fill="#000"/>
<text x="1268.00" y="1255.20" font-family="'Liberation Serif',serif" font-size="22.90" font-weight="normal" font-style="normal" text-anchor="middle">59.3</text>
<text x="140.20" y="1282.30" font-family="'Liberation Serif',serif" font-size="22.90" font-weight="bold" font-style="normal">Qwen2.5-Math-7B-S</text>
<text x="343.84" y="1272.70" font-family="'Liberation Serif',serif" font-size="14.66" textLength="7.9" lengthAdjust="spacingAndGlyphs">2</text>
<text x="355.14" y="1282.30" font-family="'Liberation Serif',serif" font-size="18.32" font-weight="bold" font-style="normal">R</text>
<text x="368.37" y="1282.30" font-family="'Liberation Serif',serif" font-size="22.90" font-weight="bold" font-style="normal">-PRL (</text>
<text x="433.89" y="1282.30" font-family="'Liberation Serif',serif" font-size="22.90" font-weight="bold" font-style="italic">ours</text>
<text x="475.90" y="1282.30" font-family="'Liberation Serif',serif" font-size="22.90" font-weight="bold" font-style="normal">)</text>
<text x="618.40" y="1282.30" font-family="'Liberation Serif',serif" font-size="22.90" font-weight="normal" font-style="normal" text-anchor="middle">83.4</text>
<rect x="598.36" y="1285.30" width="40.07" height="0.95" fill="#000"/>
<text x="695.40" y="1282.30" font-family="'Liberation Serif',serif" font-size="22.90" font-weight="normal" font-style="normal" text-anchor="middle">26.7</text>
<rect x="675.36" y="1285.30" width="40.07" height="0.95" fill="#000"/>
<text x="766.20" y="1282.30" font-family="'Liberation Serif',serif" font-size="22.90" font-weight="normal" font-style="normal" text-anchor="middle">70.0</text>
<rect x="746.16" y="1285.30" width="40.07" height="0.95" fill="#000"/>
<text x="843.20" y="1282.30" font-family="'Liberation Serif',serif" font-size="22.90" font-weight="normal" font-style="normal" text-anchor="middle">43.8</text>
<text x="939.40" y="1282.30" font-family="'Liberation Serif',serif" font-size="22.90" font-weight="normal" font-style="normal" text-anchor="middle">46.4</text>
<rect x="919.36" y="1285.30" width="40.07" height="0.95" fill="#000"/>
<text x="1039.40" y="1282.30" font-family="'Liberation Serif',serif" font-size="22.90" font-weight="normal" font-style="normal" text-anchor="middle">93.2</text>
<rect x="1019.36" y="1285.30" width="40.07" height="0.95" fill="#000"/>
<text x="1142.00" y="1282.30" font-family="'Liberation Serif',serif" font-size="22.90" font-weight="bold" font-style="normal" text-anchor="middle">70.4</text>
<text x="1268.00" y="1282.30" font-family="'Liberation Serif',serif" font-size="22.90" font-weight="normal" font-style="normal" text-anchor="middle">62.0</text>
<rect x="1247.96" y="1285.30" width="40.07" height="0.95" fill="#000"/>
<text x="140.20" y="1309.40" font-family="'Liberation Serif',serif" font-size="22.90" font-weight="bold" font-style="normal">Qwen2.5-Math-7B-S</text>
<text x="343.84" y="1299.80" font-family="'Liberation Serif',serif" font-size="14.66" textLength="7.9" lengthAdjust="spacingAndGlyphs">2</text>
<text x="355.14" y="1309.40" font-family="'Liberation Serif',serif" font-size="18.32" font-weight="bold" font-style="normal">R</text>
<text x="368.37" y="1309.40" font-family="'Liberation Serif',serif" font-size="22.90" font-weight="bold" font-style="normal">-ORL (</text>
<text x="437.71" y="1309.40" font-family="'Liberation Serif',serif" font-size="22.90" font-weight="bold" font-style="italic">ours</text>
<text x="479.72" y="1309.40" font-family="'Liberation Serif',serif" font-size="22.90" font-weight="bold" font-style="normal">)</text>
<text x="618.40" y="1309.40" font-family="'Liberation Serif',serif" font-size="22.90" font-weight="bold" font-style="normal" text-anchor="middle">84.4</text>
<text x="695.40" y="1309.40" font-family="'Liberation Serif',serif" font-size="22.90" font-weight="normal" font-style="normal" text-anchor="middle">23.3</text>
<text x="766.20" y="1309.40" font-family="'Liberation Serif',serif" font-size="22.90" font-weight="bold" font-style="normal" text-anchor="middle">77.5</text>
<text x="843.20" y="1309.40" font-family="'Liberation Serif',serif" font-size="22.90" font-weight="normal" font-style="normal" text-anchor="middle">43.8</text>
<text x="939.40" y="1309.40" font-family="'Liberation Serif',serif" font-size="22.90" font-weight="normal" font-style="normal" text-anchor="middle">44.9</text>
<text x="1039.40" y="1309.40" font-family="'Liberation Serif',serif" font-size="22.90" font-weight="normal" font-style="normal" text-anchor="middle">92.9</text>
<text x="1142.00" y="1309.40" font-family="'Liberation Serif',serif" font-size="22.90" font-weight="normal" font-style="normal" text-anchor="middle">70.1</text>
<rect x="1121.96" y="1312.40" width="40.07" height="0.95" fill="#000"/>
<text x="1268.00" y="1309.40" font-family="'Liberation Serif',serif" font-size="22.90" font-weight="bold" font-style="normal" text-anchor="middle">62.4</text>
<text x="1912.30" y="325.50" font-family="'Liberation Sans',sans-serif" font-size="23.74" text-anchor="middle" fill="#000" textLength="840.13" lengthAdjust="spacingAndGlyphs">Evaluation on Verification and Correction (Base Model: Qwen2-7B-Instruct)</text>
<text x="1710.25" y="350.00" font-family="'Liberation Sans',sans-serif" font-size="18.99" text-anchor="middle" fill="#000" textLength="210.80" lengthAdjust="spacingAndGlyphs">Self-verification Metrics</text>
<rect x="1446.16" y="589.95" width="50.30" height="46.25" fill="#b2b2b2"/>
<text x="1471.31" y="586.65" font-family="'Liberation Sans',sans-serif" font-size="15.82" text-anchor="middle" fill="#000" textLength="42.94" lengthAdjust="spacingAndGlyphs">58.31</text>
<rect x="1496.47" y="536.79" width="50.30" height="99.41" fill="#73b59e"/>
<text x="1521.62" y="533.49" font-family="'Liberation Sans',sans-serif" font-size="15.82" text-anchor="middle" fill="#000" textLength="42.94" lengthAdjust="spacingAndGlyphs">67.86</text>
<rect x="1546.77" y="558.67" width="50.30" height="77.53" fill="#e8926f"/>
<text x="1571.92" y="555.37" font-family="'Liberation Sans',sans-serif" font-size="15.82" text-anchor="middle" fill="#000" textLength="42.94" lengthAdjust="spacingAndGlyphs">63.93</text>
<rect x="1634.80" y="458.59" width="50.30" height="177.61" fill="#b2b2b2"/>
<text x="1659.95" y="455.29" font-family="'Liberation Sans',sans-serif" font-size="15.82" text-anchor="middle" fill="#000" textLength="42.94" lengthAdjust="spacingAndGlyphs">81.91</text>
<rect x="1685.10" y="432.09" width="50.30" height="204.11" fill="#73b59e"/>
<text x="1710.25" y="428.79" font-family="'Liberation Sans',sans-serif" font-size="15.82" text-anchor="middle" fill="#000" textLength="42.94" lengthAdjust="spacingAndGlyphs">86.67</text>
<rect x="1735.40" y="428.37" width="50.30" height="207.83" fill="#e8926f"/>
<text x="1760.55" y="425.07" font-family="'Liberation Sans',sans-serif" font-size="15.82" text-anchor="middle" fill="#000" textLength="42.94" lengthAdjust="spacingAndGlyphs">87.34</text>
<rect x="1823.43" y="549.48" width="50.30" height="86.72" fill="#b2b2b2"/>
<text x="1848.58" y="546.18" font-family="'Liberation Sans',sans-serif" font-size="15.82" text-anchor="middle" fill="#000" textLength="42.94" lengthAdjust="spacingAndGlyphs">65.58</text>
<rect x="1873.73" y="504.90" width="50.30" height="131.30" fill="#73b59e"/>
<text x="1898.88" y="501.60" font-family="'Liberation Sans',sans-serif" font-size="15.82" text-anchor="middle" fill="#000" textLength="42.94" lengthAdjust="spacingAndGlyphs">73.59</text>
<rect x="1924.03" y="525.99" width="50.30" height="110.21" fill="#e8926f"/>
<text x="1949.19" y="522.69" font-family="'Liberation Sans',sans-serif" font-size="15.82" text-anchor="middle" fill="#000" textLength="42.94" lengthAdjust="spacingAndGlyphs">69.80</text>
<line x1="1427.30" y1="580.54" x2="1993.20" y2="580.54" stroke="#b0b0b0" stroke-width="1.2" stroke-dasharray="4.4,1.9" opacity="0.5"/>
<line x1="1427.30" y1="524.88" x2="1993.20" y2="524.88" stroke="#b0b0b0" stroke-width="1.2" stroke-dasharray="4.4,1.9" opacity="0.5"/>
<line x1="1427.30" y1="469.22" x2="1993.20" y2="469.22" stroke="#b0b0b0" stroke-width="1.2" stroke-dasharray="4.4,1.9" opacity="0.5"/>
<line x1="1427.30" y1="413.56" x2="1993.20" y2="413.56" stroke="#b0b0b0" stroke-width="1.2" stroke-dasharray="4.4,1.9" opacity="0.5"/>
<line x1="1521.62" y1="357.90" x2="1521.62" y2="636.20" stroke="#b0b0b0" stroke-width="1.2" stroke-dasharray="4.4,1.9" opacity="0.5"/>
<line x1="1710.25" y1="357.90" x2="1710.25" y2="636.20" stroke="#b0b0b0" stroke-width="1.2" stroke-dasharray="4.4,1.9" opacity="0.5"/>
<line x1="1898.88" y1="357.90" x2="1898.88" y2="636.20" stroke="#b0b0b0" stroke-width="1.2" stroke-dasharray="4.4,1.9" opacity="0.5"/>
<rect x="1427.30" y="357.90" width="565.90" height="278.30" fill="none" stroke="#4a4a4a" stroke-width="1.3"/>
<line x1="1422.05" y1="636.20" x2="1427.30" y2="636.20" stroke="#4a4a4a" stroke-width="1.3"/>
<text x="1416.70" y="642.60" font-family="'Liberation Sans',sans-serif" font-size="15.82" text-anchor="end" fill="#000" textLength="19.09" lengthAdjust="spacingAndGlyphs">50</text>
<line x1="1422.05" y1="580.54" x2="1427.30" y2="580.54" stroke="#4a4a4a" stroke-width="1.3"/>
<text x="1416.70" y="586.94" font-family="'Liberation Sans',sans-serif" font-size="15.82" text-anchor="end" fill="#000" textLength="19.09" lengthAdjust="spacingAndGlyphs">60</text>
<line x1="1422.05" y1="524.88" x2="1427.30" y2="524.88" stroke="#4a4a4a" stroke-width="1.3"/>
<text x="1416.70" y="531.28" font-family="'Liberation Sans',sans-serif" font-size="15.82" text-anchor="end" fill="#000" textLength="19.09" lengthAdjust="spacingAndGlyphs">70</text>
<line x1="1422.05" y1="469.22" x2="1427.30" y2="469.22" stroke="#4a4a4a" stroke-width="1.3"/>
<text x="1416.70" y="475.62" font-family="'Liberation Sans',sans-serif" font-size="15.82" text-anchor="end" fill="#000" textLength="19.09" lengthAdjust="spacingAndGlyphs">80</text>
<line x1="1422.05" y1="413.56" x2="1427.30" y2="413.56" stroke="#4a4a4a" stroke-width="1.3"/>
<text x="1416.70" y="419.96" font-family="'Liberation Sans',sans-serif" font-size="15.82" text-anchor="end" fill="#000" textLength="19.09" lengthAdjust="spacingAndGlyphs">90</text>
<line x1="1422.05" y1="357.90" x2="1427.30" y2="357.90" stroke="#4a4a4a" stroke-width="1.3"/>
<text x="1416.70" y="364.30" font-family="'Liberation Sans',sans-serif" font-size="15.82" text-anchor="end" fill="#000" textLength="28.63" lengthAdjust="spacingAndGlyphs">100</text>
<line x1="1521.62" y1="636.20" x2="1521.62" y2="641.45" stroke="#4a4a4a" stroke-width="1.3"/>
<text x="1521.62" y="658.90" font-family="'Liberation Sans',sans-serif" font-size="15.82" text-anchor="middle" fill="#000" textLength="157.53" lengthAdjust="spacingAndGlyphs">Verification Accuracy</text>
<line x1="1710.25" y1="636.20" x2="1710.25" y2="641.45" stroke="#4a4a4a" stroke-width="1.3"/>
<text x="1710.25" y="658.90" font-family="'Liberation Sans',sans-serif" font-size="15.82" text-anchor="middle" fill="#000" textLength="86.08" lengthAdjust="spacingAndGlyphs">Error Recall</text>
<line x1="1898.88" y1="636.20" x2="1898.88" y2="641.45" stroke="#4a4a4a" stroke-width="1.3"/>
<text x="1898.88" y="658.90" font-family="'Liberation Sans',sans-serif" font-size="15.82" text-anchor="middle" fill="#000" textLength="126.45" lengthAdjust="spacingAndGlyphs">Correct Precision</text>
<g transform="translate(1387.6,497.0) rotate(-90)"><text x="0.00" y="0.00" font-family="'Liberation Sans',sans-serif" font-size="15.82" text-anchor="middle" fill="#000" textLength="71.92" lengthAdjust="spacingAndGlyphs">Value (%)</text></g>
<rect x="1434.2" y="368.10" width="30" height="10.5" fill="#b2b2b2"/>
<text x="1476.90" y="378.70" font-family="'Liberation Sans',sans-serif" font-size="15.82" text-anchor="start" fill="#000" textLength="27.05" lengthAdjust="spacingAndGlyphs">SFT</text>
<rect x="1434.2" y="390.15" width="30" height="10.5" fill="#73b59e"/>
<text x="1476.90" y="400.75" font-family="'Liberation Sans',sans-serif" font-size="15.82" text-anchor="start" fill="#000" textLength="170.69" lengthAdjust="spacingAndGlyphs">SFT + Process-level RL</text>
<rect x="1434.2" y="412.20" width="30" height="10.5" fill="#e8926f"/>
<text x="1476.90" y="422.80" font-family="'Liberation Sans',sans-serif" font-size="15.82" text-anchor="start" fill="#000" textLength="182.24" lengthAdjust="spacingAndGlyphs">SFT + Outcome-level RL</text>
<text x="2239.00" y="350.00" font-family="'Liberation Sans',sans-serif" font-size="18.99" text-anchor="middle" fill="#000" textLength="200.86" lengthAdjust="spacingAndGlyphs">Self-correction Metrics</text>
<rect x="2069.44" y="413.56" width="50.24" height="222.64" fill="#b2b2b2"/>
<text x="2094.56" y="410.26" font-family="'Liberation Sans',sans-serif" font-size="15.82" text-anchor="middle" fill="#000" textLength="42.94" lengthAdjust="spacingAndGlyphs">20.00</text>
<rect x="2119.68" y="389.40" width="50.24" height="246.80" fill="#73b59e"/>
<text x="2144.80" y="386.10" font-family="'Liberation Sans',sans-serif" font-size="15.82" text-anchor="middle" fill="#000" textLength="42.94" lengthAdjust="spacingAndGlyphs">22.17</text>
<rect x="2169.92" y="418.57" width="50.24" height="217.63" fill="#e8926f"/>
<text x="2195.04" y="415.27" font-family="'Liberation Sans',sans-serif" font-size="15.82" text-anchor="middle" fill="#000" textLength="42.94" lengthAdjust="spacingAndGlyphs">19.55</text>
<rect x="2257.84" y="542.47" width="50.24" height="93.73" fill="#b2b2b2"/>
<text x="2282.96" y="539.17" font-family="'Liberation Sans',sans-serif" font-size="15.82" text-anchor="middle" fill="#000" textLength="33.40" lengthAdjust="spacingAndGlyphs">8.42</text>
<rect x="2308.08" y="576.20" width="50.24" height="60.00" fill="#73b59e"/>
<text x="2333.20" y="572.90" font-family="'Liberation Sans',sans-serif" font-size="15.82" text-anchor="middle" fill="#000" textLength="33.40" lengthAdjust="spacingAndGlyphs">5.39</text>
<rect x="2358.32" y="592.45" width="50.24" height="43.75" fill="#e8926f"/>
<text x="2383.44" y="589.15" font-family="'Liberation Sans',sans-serif" font-size="15.82" text-anchor="middle" fill="#000" textLength="33.40" lengthAdjust="spacingAndGlyphs">3.93</text>
<line x1="2050.60" y1="580.54" x2="2427.40" y2="580.54" stroke="#b0b0b0" stroke-width="1.2" stroke-dasharray="4.4,1.9" opacity="0.5"/>
<line x1="2050.60" y1="524.88" x2="2427.40" y2="524.88" stroke="#b0b0b0" stroke-width="1.2" stroke-dasharray="4.4,1.9" opacity="0.5"/>
<line x1="2050.60" y1="469.22" x2="2427.40" y2="469.22" stroke="#b0b0b0" stroke-width="1.2" stroke-dasharray="4.4,1.9" opacity="0.5"/>
<line x1="2050.60" y1="413.56" x2="2427.40" y2="413.56" stroke="#b0b0b0" stroke-width="1.2" stroke-dasharray="4.4,1.9" opacity="0.5"/>
<line x1="2144.80" y1="357.90" x2="2144.80" y2="636.20" stroke="#b0b0b0" stroke-width="1.2" stroke-dasharray="4.4,1.9" opacity="0.5"/>
<line x1="2333.20" y1="357.90" x2="2333.20" y2="636.20" stroke="#b0b0b0" stroke-width="1.2" stroke-dasharray="4.4,1.9" opacity="0.5"/>
<rect x="2050.60" y="357.90" width="376.80" height="278.30" fill="none" stroke="#4a4a4a" stroke-width="1.3"/>
<line x1="2045.35" y1="636.20" x2="2050.60" y2="636.20" stroke="#4a4a4a" stroke-width="1.3"/>
<text x="2040.00" y="642.60" font-family="'Liberation Sans',sans-serif" font-size="15.82" text-anchor="end" fill="#000" textLength="9.54" lengthAdjust="spacingAndGlyphs">0</text>
<line x1="2045.35" y1="580.54" x2="2050.60" y2="580.54" stroke="#4a4a4a" stroke-width="1.3"/>
<text x="2040.00" y="586.94" font-family="'Liberation Sans',sans-serif" font-size="15.82" text-anchor="end" fill="#000" textLength="9.54" lengthAdjust="spacingAndGlyphs">5</text>
<line x1="2045.35" y1="524.88" x2="2050.60" y2="524.88" stroke="#4a4a4a" stroke-width="1.3"/>
<text x="2040.00" y="531.28" font-family="'Liberation Sans',sans-serif" font-size="15.82" text-anchor="end" fill="#000" textLength="19.09" lengthAdjust="spacingAndGlyphs">10</text>
<line x1="2045.35" y1="469.22" x2="2050.60" y2="469.22" stroke="#4a4a4a" stroke-width="1.3"/>
<text x="2040.00" y="475.62" font-family="'Liberation Sans',sans-serif" font-size="15.82" text-anchor="end" fill="#000" textLength="19.09" lengthAdjust="spacingAndGlyphs">15</text>
<line x1="2045.35" y1="413.56" x2="2050.60" y2="413.56" stroke="#4a4a4a" stroke-width="1.3"/>
<text x="2040.00" y="419.96" font-family="'Liberation Sans',sans-serif" font-size="15.82" text-anchor="end" fill="#000" textLength="19.09" lengthAdjust="spacingAndGlyphs">20</text>
<line x1="2045.35" y1="357.90" x2="2050.60" y2="357.90" stroke="#4a4a4a" stroke-width="1.3"/>
<text x="2040.00" y="364.30" font-family="'Liberation Sans',sans-serif" font-size="15.82" text-anchor="end" fill="#000" textLength="19.09" lengthAdjust="spacingAndGlyphs">25</text>
<line x1="2144.80" y1="636.20" x2="2144.80" y2="641.45" stroke="#4a4a4a" stroke-width="1.3"/>
<text x="2144.80" y="658.70" font-family="'Liberation Sans',sans-serif" font-size="15.82" text-anchor="middle" fill="#000" textLength="66.46" lengthAdjust="spacingAndGlyphs">Incorrect</text>
<text x="2144.80" y="674.80" font-family="'Liberation Sans',sans-serif" font-size="15.82" text-anchor="middle" fill="#000" textLength="74.58" lengthAdjust="spacingAndGlyphs">to Correct</text>
<line x1="2333.20" y1="636.20" x2="2333.20" y2="641.45" stroke="#4a4a4a" stroke-width="1.3"/>
<text x="2333.20" y="658.70" font-family="'Liberation Sans',sans-serif" font-size="15.82" text-anchor="middle" fill="#000" textLength="54.75" lengthAdjust="spacingAndGlyphs">Correct</text>
<text x="2333.20" y="674.80" font-family="'Liberation Sans',sans-serif" font-size="15.82" text-anchor="middle" fill="#000" textLength="86.28" lengthAdjust="spacingAndGlyphs">to Incorrect</text>
<g transform="translate(2019.6,497.0) rotate(-90)"><text x="0.00" y="0.00" font-family="'Liberation Sans',sans-serif" font-size="15.82" text-anchor="middle" fill="#000" textLength="71.92" lengthAdjust="spacingAndGlyphs">Value (%)</text></g>
<line x1="1371.85" y1="705.90" x2="2443.15" y2="705.90" stroke="#3a3a3a" stroke-width="1.50"/>
<line x1="2066.65" y1="767.30" x2="2443.15" y2="767.30" stroke="#3a3a3a" stroke-width="1.50"/>
<line x1="1371.85" y1="833.80" x2="2443.15" y2="833.80" stroke="#3a3a3a" stroke-width="1.50"/>
<line x1="1658.65" y1="895.70" x2="2443.15" y2="895.70" stroke="#3a3a3a" stroke-width="1.50"/>
<line x1="1371.85" y1="956.20" x2="2443.15" y2="956.20" stroke="#3a3a3a" stroke-width="1.50"/>
<line x1="1658.65" y1="1016.80" x2="2443.15" y2="1016.80" stroke="#3a3a3a" stroke-width="1.50"/>
<line x1="1371.85" y1="1077.30" x2="2443.15" y2="1077.30" stroke="#3a3a3a" stroke-width="1.50"/>
<line x1="1658.65" y1="1138.00" x2="2443.15" y2="1138.00" stroke="#3a3a3a" stroke-width="1.50"/>
<line x1="1371.85" y1="1198.40" x2="2443.15" y2="1198.40" stroke="#3a3a3a" stroke-width="1.50"/>
<line x1="1372.60" y1="705.90" x2="1372.60" y2="1198.40" stroke="#3a3a3a" stroke-width="1.50"/>
<line x1="1659.40" y1="705.90" x2="1659.40" y2="1198.40" stroke="#3a3a3a" stroke-width="1.50"/>
<line x1="1888.10" y1="705.90" x2="1888.10" y2="1198.40" stroke="#3a3a3a" stroke-width="1.50"/>
<line x1="2067.40" y1="705.90" x2="2067.40" y2="1198.40" stroke="#3a3a3a" stroke-width="1.50"/>
<line x1="2442.40" y1="705.90" x2="2442.40" y2="1198.40" stroke="#3a3a3a" stroke-width="1.50"/>
<line x1="2244.30" y1="767.30" x2="2244.30" y2="1198.40" stroke="#3a3a3a" stroke-width="1.50"/>
<text x="1392.20" y="772.70" font-family="'Liberation Serif',serif" font-size="28.20" font-weight="bold" font-style="normal">Base Model</text>
<text x="1679.20" y="772.70" font-family="'Liberation Serif',serif" font-size="28.20" font-weight="bold" font-style="normal">Methods</text>
<text x="1977.75" y="741.30" font-family="'Liberation Serif',serif" font-size="28.20" font-weight="bold" font-style="normal" text-anchor="middle">Overall</text>
<text x="1977.75" y="772.80" font-family="'Liberation Serif',serif" font-size="28.20" font-weight="bold" font-style="normal" text-anchor="middle">Verification</text>
<text x="1977.75" y="804.10" font-family="'Liberation Serif',serif" font-size="28.20" font-weight="bold" font-style="normal" text-anchor="middle">Acc.</text>
<text x="2254.90" y="747.80" font-family="'Liberation Serif',serif" font-size="28.20" font-weight="bold" font-style="normal" text-anchor="middle">Initial Verification Acc.</text>
<text x="2088.65" y="792.40" font-family="'Liberation Serif',serif" font-size="28.2" font-style="italic">V</text>
<text x="2106.35" y="795.00" font-family="'Liberation Serif',serif" font-size="18.6" font-style="italic" textLength="66" lengthAdjust="spacingAndGlyphs">golden</text>
<text x="2177.95" y="793.90" font-family="'Liberation Serif',serif" font-size="31.5" transform="translate(2177.95,0.00) scale(0.85,1) translate(-2177.95,0.00)">(</text>
<text x="2187.65" y="792.40" font-family="'Liberation Serif',serif" font-size="28.2" font-style="italic">s</text>
<text x="2200.65" y="795.30" font-family="'Liberation Serif',serif" font-size="19.7">0</text>
<text x="2215.35" y="793.90" font-family="'Liberation Serif',serif" font-size="31.5" transform="translate(2215.35,0.00) scale(0.85,1) translate(-2215.35,0.00)">)</text>
<text x="2276.15" y="792.40" font-family="'Liberation Serif',serif" font-size="28.2" font-style="italic">V</text>
<text x="2293.85" y="795.00" font-family="'Liberation Serif',serif" font-size="18.6" font-style="italic" textLength="66" lengthAdjust="spacingAndGlyphs">golden</text>
<text x="2365.45" y="793.90" font-family="'Liberation Serif',serif" font-size="31.5" transform="translate(2365.45,0.00) scale(0.85,1) translate(-2365.45,0.00)">(</text>
<text x="2375.15" y="792.40" font-family="'Liberation Serif',serif" font-size="28.2" font-style="italic">s</text>
<text x="2388.15" y="795.30" font-family="'Liberation Serif',serif" font-size="19.7">0</text>
<text x="2402.85" y="793.90" font-family="'Liberation Serif',serif" font-size="31.5" transform="translate(2402.85,0.00) scale(0.85,1) translate(-2402.85,0.00)">)</text>
<rect x="2093.20" y="813.3" width="19.2" height="1.7" fill="#111"/><rect x="2093.20" y="819.1" width="19.2" height="1.7" fill="#111"/>
<text x="2122.60" y="823.8" font-family="'Liberation Mono',monospace" font-size="25.5" textLength="98.00" lengthAdjust="spacingAndGlyphs">correct</text>
<rect x="2265.60" y="813.3" width="19.2" height="1.7" fill="#111"/><rect x="2265.60" y="819.1" width="19.2" height="1.7" fill="#111"/>
<text x="2295.00" y="823.8" font-family="'Liberation Mono',monospace" font-size="25.5" textLength="126.00" lengthAdjust="spacingAndGlyphs">incorrect</text>
<text x="1392.40" y="900.70" font-family="'Liberation Serif',serif" font-size="28.20" font-weight="normal" font-style="italic">Llama3.1-8B-Instruct</text>
<text x="1679.60" y="876.90" font-family="'Liberation Serif',serif" font-size="28.20" font-weight="normal" font-style="normal">Problem-solving</text>
<text x="1679.60" y="936.60" font-family="'Liberation Serif',serif" font-size="28.20" font-weight="normal" font-style="normal">Confirmative</text>
<text x="1977.75" y="876.90" font-family="'Liberation Serif',serif" font-size="28.20" font-weight="normal" font-style="normal" text-anchor="middle">80.10</text>
<text x="2155.85" y="876.90" font-family="'Liberation Serif',serif" font-size="28.20" font-weight="normal" font-style="normal" text-anchor="middle">87.28</text>
<text x="2343.35" y="876.90" font-family="'Liberation Serif',serif" font-size="28.20" font-weight="normal" font-style="normal" text-anchor="middle">66.96</text>
<text x="1977.75" y="936.60" font-family="'Liberation Serif',serif" font-size="28.20" font-weight="normal" font-style="normal" text-anchor="middle">65.67</text>
<text x="2155.85" y="936.60" font-family="'Liberation Serif',serif" font-size="28.20" font-weight="normal" font-style="normal" text-anchor="middle">77.27</text>
<text x="2343.35" y="936.60" font-family="'Liberation Serif',serif" font-size="28.20" font-weight="normal" font-style="normal" text-anchor="middle">78.22</text>
<text x="1392.40" y="1022.00" font-family="'Liberation Serif',serif" font-size="28.20" font-weight="normal" font-style="italic">Qwen2-7B-Instruct</text>
<text x="1679.60" y="998.10" font-family="'Liberation Serif',serif" font-size="28.20" font-weight="normal" font-style="normal">Problem-solving</text>
<text x="1679.60" y="1057.80" font-family="'Liberation Serif',serif" font-size="28.20" font-weight="normal" font-style="normal">Confirmative</text>
<text x="1977.75" y="998.10" font-family="'Liberation Serif',serif" font-size="28.20" font-weight="normal" font-style="normal" text-anchor="middle">73.28</text>
<text x="2155.85" y="998.10" font-family="'Liberation Serif',serif" font-size="28.20" font-weight="normal" font-style="normal" text-anchor="middle">90.24</text>
<text x="2343.35" y="998.10" font-family="'Liberation Serif',serif" font-size="28.20" font-weight="normal" font-style="normal" text-anchor="middle">67.37</text>
<text x="1977.75" y="1057.80" font-family="'Liberation Serif',serif" font-size="28.20" font-weight="normal" font-style="normal" text-anchor="middle">58.31</text>
<text x="2155.85" y="1057.80" font-family="'Liberation Serif',serif" font-size="28.20" font-weight="normal" font-style="normal" text-anchor="middle">76.16</text>
<text x="2343.35" y="1057.80" font-family="'Liberation Serif',serif" font-size="28.20" font-weight="normal" font-style="normal" text-anchor="middle">70.05</text>
<text x="1392.40" y="1142.80" font-family="'Liberation Serif',serif" font-size="28.20" font-weight="normal" font-style="italic">Qwen2.5-Math-7B</text>
<text x="1679.60" y="1119.30" font-family="'Liberation Serif',serif" font-size="28.20" font-weight="normal" font-style="normal">Problem-solving</text>
<text x="1679.60" y="1179.00" font-family="'Liberation Serif',serif" font-size="28.20" font-weight="normal" font-style="normal">Confirmative</text>
<text x="1977.75" y="1119.30" font-family="'Liberation Serif',serif" font-size="28.20" font-weight="normal" font-style="normal" text-anchor="middle">77.25</text>
<text x="2155.85" y="1119.30" font-family="'Liberation Serif',serif" font-size="28.20" font-weight="normal" font-style="normal" text-anchor="middle">91.21</text>
<text x="2343.35" y="1119.30" font-family="'Liberation Serif',serif" font-size="28.20" font-weight="normal" font-style="normal" text-anchor="middle">56.67</text>
<text x="1977.75" y="1179.00" font-family="'Liberation Serif',serif" font-size="28.20" font-weight="normal" font-style="normal" text-anchor="middle">61.58</text>
<text x="2155.85" y="1179.00" font-family="'Liberation Serif',serif" font-size="28.20" font-weight="normal" font-style="normal" text-anchor="middle">82.80</text>
<text x="2343.35" y="1179.00" font-family="'Liberation Serif',serif" font-size="28.20" font-weight="normal" font-style="normal" text-anchor="middle">68.04</text>
<text x="1288.2" y="1358.1" font-family="'Liberation Sans',sans-serif" font-size="26" fill="#7f7f7f" text-anchor="middle" textLength="383" lengthAdjust="spacingAndGlyphs">Natural Language Processing Lab.,</text>
<text x="1288.0" y="1389.4" font-family="'Liberation Sans',sans-serif" font-size="26" fill="#7f7f7f" text-anchor="middle" textLength="222" lengthAdjust="spacingAndGlyphs">Hanyang University.</text>
<text x="2413.8" y="1373.6" font-family="'Liberation Sans',sans-serif" font-size="22" fill="#777" stroke="#777" stroke-width="0.35" text-anchor="middle">45</text>
<rect x="96" y="1338.1" width="294.8" height="2.5" fill="#0f4d8c"/>
<rect x="96" y="1394.3" width="294.8" height="2.5" fill="#0f4d8c"/>
<rect x="107.2" y="1340" width="12.7" height="54.6" fill="#0f4d8c"/>
<rect x="141.0" y="1340" width="11.9" height="54.6" fill="#0f4d8c"/>
<rect x="119.5" y="1365.2" width="22" height="3.1" fill="#0f4d8c"/>
<path d="M163.8,1340.3 L177.8,1340.3 L191.2,1370.5 L201.6,1346 Q203.5,1341.2 209,1340.3 L211,1340.3 L192,1375.8 L192,1394.6 L179.7,1394.6 L179.7,1375.8 Z" fill="#0f4d8c"/>
<path d="M216.6,1340.3 L229.6,1340.3 L229.6,1378 Q229.8,1392.8 243,1392.9 Q255.8,1392.8 256.2,1378 L256.2,1350 Q256.4,1341.5 262,1340.3 L264,1340.3 Q260.4,1343 260.3,1350 L260.3,1379 Q259.8,1394.6 240,1394.6 Q217,1394.4 216.6,1378 Z" fill="#0f4d8c"/>
<line x1="286.15" y1="1350.92" x2="286.15" y2="1352.70" stroke="#58595b" stroke-width="2.45"/>
<line x1="280.16" y1="1352.95" x2="291.84" y2="1352.95" stroke="#58595b" stroke-width="2.45"/>
<ellipse cx="286.00" cy="1359.05" rx="4.16" ry="3.15" fill="none" stroke="#58595b" stroke-width="2.45"/>
<line x1="295.65" y1="1351.43" x2="295.65" y2="1366.16" stroke="#58595b" stroke-width="2.45"/>
<line x1="295.65" y1="1357.27" x2="299.71" y2="1357.27" stroke="#58595b" stroke-width="2.45"/>
<line x1="285.24" y1="1365.39" x2="285.24" y2="1372.00" stroke="#58595b" stroke-width="2.45"/>
<line x1="283.97" y1="1370.88" x2="296.92" y2="1370.88" stroke="#58595b" stroke-width="2.45"/>
<ellipse cx="308.34" cy="1356.35" rx="4.47" ry="4.06" fill="none" stroke="#58595b" stroke-width="2.45"/>
<line x1="316.98" y1="1351.58" x2="316.98" y2="1362.35" stroke="#58595b" stroke-width="2.45"/>
<line x1="316.98" y1="1354.58" x2="320.89" y2="1354.58" stroke="#58595b" stroke-width="2.45"/>
<line x1="316.98" y1="1358.79" x2="320.89" y2="1358.79" stroke="#58595b" stroke-width="2.45"/>
<ellipse cx="312.92" cy="1368.34" rx="4.57" ry="3.20" fill="none" stroke="#58595b" stroke-width="2.45"/>
<line x1="325.87" y1="1352.70" x2="333.48" y2="1352.70" stroke="#58595b" stroke-width="2.45"/>
<line x1="326.88" y1="1352.09" x2="326.88" y2="1364.28" stroke="#58595b" stroke-width="2.45"/>
<line x1="325.87" y1="1363.67" x2="334.09" y2="1363.67" stroke="#58595b" stroke-width="2.45"/>
<line x1="335.62" y1="1351.58" x2="335.62" y2="1372.00" stroke="#58595b" stroke-width="2.45"/>
<line x1="340.34" y1="1351.27" x2="340.34" y2="1372.00" stroke="#58595b" stroke-width="2.45"/>
<line x1="335.62" y1="1360.31" x2="340.34" y2="1360.31" stroke="#58595b" stroke-width="2.45"/>
<line x1="351.01" y1="1350.92" x2="351.01" y2="1352.70" stroke="#58595b" stroke-width="2.45"/>
<line x1="345.17" y1="1352.95" x2="356.59" y2="1352.95" stroke="#58595b" stroke-width="2.45"/>
<ellipse cx="351.26" cy="1358.89" rx="4.06" ry="3.15" fill="none" stroke="#58595b" stroke-width="2.45"/>
<line x1="360.40" y1="1351.43" x2="360.40" y2="1364.38" stroke="#58595b" stroke-width="2.45"/>
<line x1="360.40" y1="1357.27" x2="364.57" y2="1357.27" stroke="#58595b" stroke-width="2.45"/>
<line x1="348.21" y1="1366.00" x2="361.42" y2="1366.00" stroke="#58595b" stroke-width="2.45"/>
<line x1="360.40" y1="1365.39" x2="360.40" y2="1372.00" stroke="#58595b" stroke-width="2.45"/>
<line x1="368.27" y1="1352.19" x2="381.99" y2="1352.19" stroke="#58595b" stroke-width="2.45"/>
<line x1="380.97" y1="1351.58" x2="380.97" y2="1367.68" stroke="#58595b" stroke-width="2.45"/>
<line x1="371.73" y1="1360.06" x2="371.73" y2="1369.46" stroke="#58595b" stroke-width="2.45"/>
<line x1="376.81" y1="1360.06" x2="376.81" y2="1369.46" stroke="#58595b" stroke-width="2.45"/>
<line x1="367.26" y1="1370.07" x2="383.76" y2="1370.07" stroke="#58595b" stroke-width="2.45"/>
<text transform="translate(283.2,1385.3) scale(0.62,1)" font-family="'Liberation Sans',sans-serif" font-weight="bold" font-size="10.5" letter-spacing="2.55" fill="#58595b" stroke="#58595b" stroke-width="0.35">HANYANG UNIVERSITY</text>
</svg>
</body></html>
